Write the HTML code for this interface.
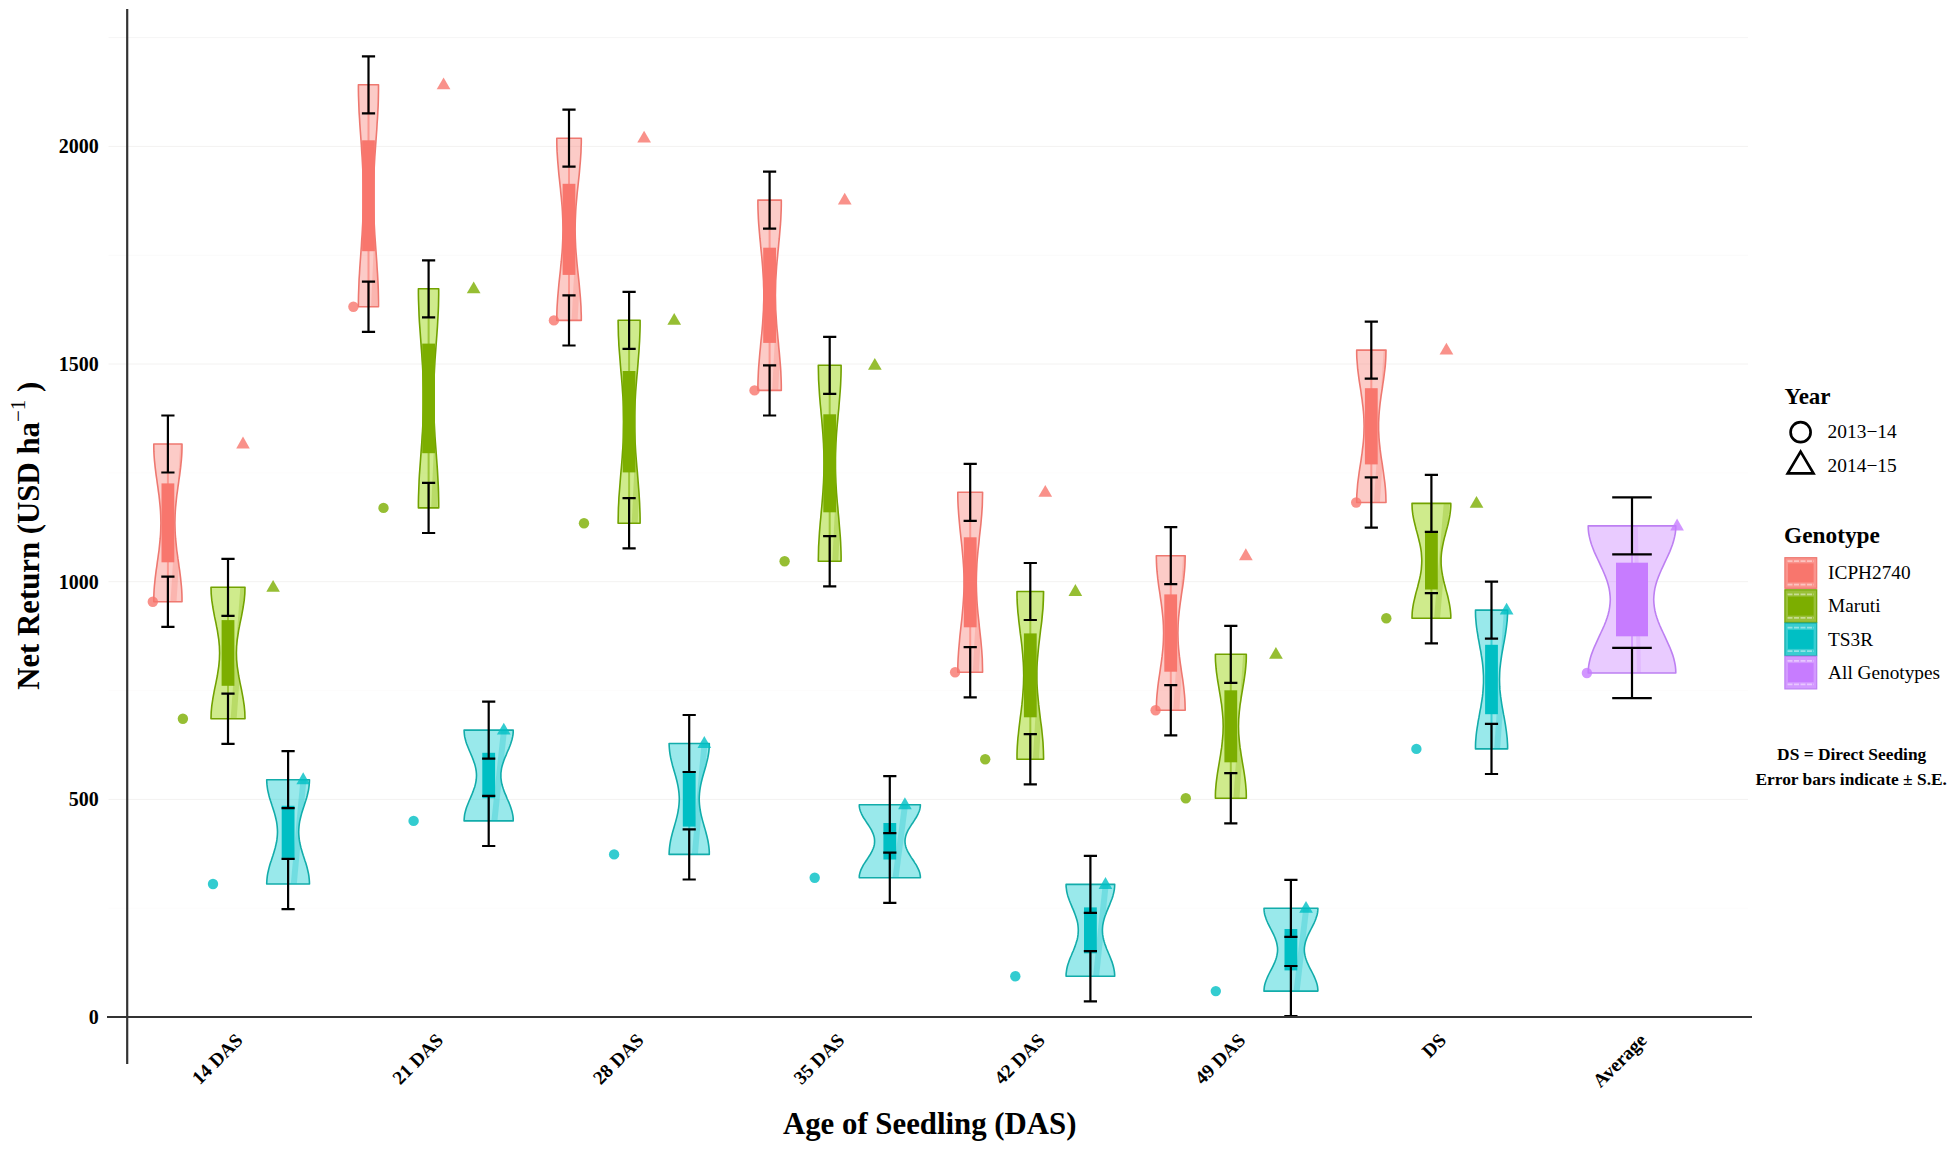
<!DOCTYPE html>
<html lang="en"><head><meta charset="utf-8"><title>Net Return by Age of Seedling</title>
<style>html,body{margin:0;padding:0;background:#fff}svg{display:block}text{font-family:"Liberation Serif",serif;fill:#000}.b{font-weight:bold}</style></head><body>
<svg width="1949" height="1150" viewBox="0 0 1949 1150">
<rect width="1949" height="1150" fill="#fff"/>
<g stroke-width="1">
<line x1="108.5" x2="1748" y1="908.2" y2="908.2" stroke="#fdfcfc"/>
<line x1="108.5" x2="1748" y1="799.4" y2="799.4" stroke="#f3f2f1"/>
<line x1="108.5" x2="1748" y1="690.5" y2="690.5" stroke="#fdfcfc"/>
<line x1="108.5" x2="1748" y1="581.7" y2="581.7" stroke="#f3f2f1"/>
<line x1="108.5" x2="1748" y1="472.9" y2="472.9" stroke="#fdfcfc"/>
<line x1="108.5" x2="1748" y1="364.0" y2="364.0" stroke="#f3f2f1"/>
<line x1="108.5" x2="1748" y1="255.2" y2="255.2" stroke="#fafafa"/>
<line x1="108.5" x2="1748" y1="146.4" y2="146.4" stroke="#f3f2f1"/>
<line x1="108.5" x2="1748" y1="37.6" y2="37.6" stroke="#f6f5f5"/>
</g>
<path d="M153.8 444.0 L153.8 447.9 L153.9 451.9 L154.1 455.8 L154.4 459.8 L154.8 463.7 L155.2 467.7 L155.7 471.6 L156.2 475.6 L156.8 479.5 L157.3 483.4 L157.9 487.4 L158.4 491.3 L159.0 495.3 L159.4 499.2 L159.8 503.2 L160.2 507.1 L160.5 511.1 L160.7 515.0 L160.8 519.0 L160.9 522.9 L160.8 526.8 L160.7 530.8 L160.5 534.7 L160.2 538.7 L159.8 542.6 L159.4 546.6 L159.0 550.5 L158.4 554.5 L157.9 558.4 L157.3 562.3 L156.8 566.3 L156.2 570.2 L155.7 574.2 L155.2 578.1 L154.8 582.1 L154.4 586.0 L154.1 590.0 L153.9 593.9 L153.8 597.9 L153.8 601.8 L182.0 601.8 L182.0 597.9 L181.9 593.9 L181.7 590.0 L181.4 586.0 L181.0 582.1 L180.6 578.1 L180.1 574.2 L179.6 570.2 L179.0 566.3 L178.5 562.3 L177.9 558.4 L177.4 554.5 L176.8 550.5 L176.4 546.6 L176.0 542.6 L175.6 538.7 L175.3 534.7 L175.1 530.8 L175.0 526.8 L174.9 522.9 L175.0 519.0 L175.1 515.0 L175.3 511.1 L175.6 507.1 L176.0 503.2 L176.4 499.2 L176.8 495.3 L177.4 491.3 L177.9 487.4 L178.5 483.4 L179.0 479.5 L179.6 475.6 L180.1 471.6 L180.6 467.7 L181.0 463.7 L181.4 459.8 L181.7 455.8 L181.9 451.9 L182.0 447.9 L182.0 444.0Z" fill="#F8766D" fill-opacity="0.38" stroke="#EE7870" stroke-width="1.6" stroke-linejoin="round"/>
<clipPath id="c1"><path d="M153.8 444.0 L153.8 447.9 L153.9 451.9 L154.1 455.8 L154.4 459.8 L154.8 463.7 L155.2 467.7 L155.7 471.6 L156.2 475.6 L156.8 479.5 L157.3 483.4 L157.9 487.4 L158.4 491.3 L159.0 495.3 L159.4 499.2 L159.8 503.2 L160.2 507.1 L160.5 511.1 L160.7 515.0 L160.8 519.0 L160.9 522.9 L160.8 526.8 L160.7 530.8 L160.5 534.7 L160.2 538.7 L159.8 542.6 L159.4 546.6 L159.0 550.5 L158.4 554.5 L157.9 558.4 L157.3 562.3 L156.8 566.3 L156.2 570.2 L155.7 574.2 L155.2 578.1 L154.8 582.1 L154.4 586.0 L154.1 590.0 L153.9 593.9 L153.8 597.9 L153.8 601.8 L182.0 601.8 L182.0 597.9 L181.9 593.9 L181.7 590.0 L181.4 586.0 L181.0 582.1 L180.6 578.1 L180.1 574.2 L179.6 570.2 L179.0 566.3 L178.5 562.3 L177.9 558.4 L177.4 554.5 L176.8 550.5 L176.4 546.6 L176.0 542.6 L175.6 538.7 L175.3 534.7 L175.1 530.8 L175.0 526.8 L174.9 522.9 L175.0 519.0 L175.1 515.0 L175.3 511.1 L175.6 507.1 L176.0 503.2 L176.4 499.2 L176.8 495.3 L177.4 491.3 L177.9 487.4 L178.5 483.4 L179.0 479.5 L179.6 475.6 L180.1 471.6 L180.6 467.7 L181.0 463.7 L181.4 459.8 L181.7 455.8 L181.9 451.9 L182.0 447.9 L182.0 444.0Z"/></clipPath>
<line x1="183.4" y1="442.0" x2="173.4" y2="603.8" stroke="#F8766D" stroke-width="6" stroke-opacity="0.26" clip-path="url(#c1)"/>
<line x1="167.9" x2="167.9" y1="444.0" y2="601.8" stroke="#F8766D" stroke-width="2" stroke-opacity="0.6"/>
<rect x="161.5" y="483.4" width="12.8" height="78.9" fill="#F8766D"/>
<path d="M211.0 587.3 L211.1 590.6 L211.2 593.9 L211.5 597.2 L211.8 600.4 L212.3 603.7 L212.8 607.0 L213.4 610.3 L214.0 613.6 L214.6 616.9 L215.3 620.1 L216.0 623.4 L216.6 626.7 L217.3 630.0 L217.8 633.3 L218.3 636.6 L218.8 639.9 L219.1 643.1 L219.4 646.4 L219.5 649.7 L219.6 653.0 L219.5 656.3 L219.4 659.6 L219.1 662.9 L218.8 666.1 L218.3 669.4 L217.8 672.7 L217.3 676.0 L216.6 679.3 L216.0 682.6 L215.3 685.9 L214.6 689.1 L214.0 692.4 L213.4 695.7 L212.8 699.0 L212.3 702.3 L211.8 705.6 L211.5 708.8 L211.2 712.1 L211.1 715.4 L211.0 718.7 L245.0 718.7 L244.9 715.4 L244.8 712.1 L244.5 708.8 L244.2 705.6 L243.7 702.3 L243.2 699.0 L242.6 695.7 L242.0 692.4 L241.4 689.1 L240.7 685.9 L240.0 682.6 L239.4 679.3 L238.7 676.0 L238.2 672.7 L237.7 669.4 L237.2 666.1 L236.9 662.9 L236.6 659.6 L236.5 656.3 L236.4 653.0 L236.5 649.7 L236.6 646.4 L236.9 643.1 L237.2 639.9 L237.7 636.6 L238.2 633.3 L238.7 630.0 L239.4 626.7 L240.0 623.4 L240.7 620.1 L241.4 616.9 L242.0 613.6 L242.6 610.3 L243.2 607.0 L243.7 603.7 L244.2 600.4 L244.5 597.2 L244.8 593.9 L244.9 590.6 L245.0 587.3Z" fill="#94D200" fill-opacity="0.45" stroke="#72A200" stroke-width="1.6" stroke-linejoin="round"/>
<clipPath id="c2"><path d="M211.0 587.3 L211.1 590.6 L211.2 593.9 L211.5 597.2 L211.8 600.4 L212.3 603.7 L212.8 607.0 L213.4 610.3 L214.0 613.6 L214.6 616.9 L215.3 620.1 L216.0 623.4 L216.6 626.7 L217.3 630.0 L217.8 633.3 L218.3 636.6 L218.8 639.9 L219.1 643.1 L219.4 646.4 L219.5 649.7 L219.6 653.0 L219.5 656.3 L219.4 659.6 L219.1 662.9 L218.8 666.1 L218.3 669.4 L217.8 672.7 L217.3 676.0 L216.6 679.3 L216.0 682.6 L215.3 685.9 L214.6 689.1 L214.0 692.4 L213.4 695.7 L212.8 699.0 L212.3 702.3 L211.8 705.6 L211.5 708.8 L211.2 712.1 L211.1 715.4 L211.0 718.7 L245.0 718.7 L244.9 715.4 L244.8 712.1 L244.5 708.8 L244.2 705.6 L243.7 702.3 L243.2 699.0 L242.6 695.7 L242.0 692.4 L241.4 689.1 L240.7 685.9 L240.0 682.6 L239.4 679.3 L238.7 676.0 L238.2 672.7 L237.7 669.4 L237.2 666.1 L236.9 662.9 L236.6 659.6 L236.5 656.3 L236.4 653.0 L236.5 649.7 L236.6 646.4 L236.9 643.1 L237.2 639.9 L237.7 636.6 L238.2 633.3 L238.7 630.0 L239.4 626.7 L240.0 623.4 L240.7 620.1 L241.4 616.9 L242.0 613.6 L242.6 610.3 L243.2 607.0 L243.7 603.7 L244.2 600.4 L244.5 597.2 L244.8 593.9 L244.9 590.6 L245.0 587.3Z"/></clipPath>
<line x1="243.5" y1="585.3" x2="233.5" y2="720.7" stroke="#7CAE00" stroke-width="6" stroke-opacity="0.26" clip-path="url(#c2)"/>
<line x1="228.0" x2="228.0" y1="587.3" y2="718.7" stroke="#7CAE00" stroke-width="2" stroke-opacity="0.6"/>
<rect x="221.6" y="620.1" width="12.8" height="65.7" fill="#7CAE00"/>
<path d="M266.7 779.7 L266.8 782.3 L267.0 784.9 L267.3 787.5 L267.7 790.1 L268.3 792.7 L268.9 795.3 L269.6 798.0 L270.4 800.6 L271.3 803.2 L272.1 805.8 L273.0 808.4 L273.8 811.0 L274.6 813.6 L275.3 816.2 L275.9 818.8 L276.5 821.4 L276.9 824.0 L277.2 826.6 L277.4 829.2 L277.5 831.9 L277.4 834.5 L277.2 837.1 L276.9 839.7 L276.5 842.3 L275.9 844.9 L275.3 847.5 L274.6 850.1 L273.8 852.7 L273.0 855.3 L272.1 857.9 L271.3 860.5 L270.4 863.1 L269.6 865.7 L268.9 868.4 L268.3 871.0 L267.7 873.6 L267.3 876.2 L267.0 878.8 L266.8 881.4 L266.7 884.0 L309.5 884.0 L309.4 881.4 L309.2 878.8 L308.9 876.2 L308.5 873.6 L307.9 871.0 L307.3 868.4 L306.6 865.7 L305.8 863.1 L304.9 860.5 L304.1 857.9 L303.2 855.3 L302.4 852.7 L301.6 850.1 L300.9 847.5 L300.3 844.9 L299.7 842.3 L299.3 839.7 L299.0 837.1 L298.8 834.5 L298.7 831.9 L298.8 829.2 L299.0 826.6 L299.3 824.0 L299.7 821.4 L300.3 818.8 L300.9 816.2 L301.6 813.6 L302.4 811.0 L303.2 808.4 L304.1 805.8 L304.9 803.2 L305.8 800.6 L306.6 798.0 L307.3 795.3 L307.9 792.7 L308.5 790.1 L308.9 787.5 L309.2 784.9 L309.4 782.3 L309.5 779.7Z" fill="#00C8CC" fill-opacity="0.4" stroke="#12ACAA" stroke-width="1.6" stroke-linejoin="round"/>
<clipPath id="c3"><path d="M266.7 779.7 L266.8 782.3 L267.0 784.9 L267.3 787.5 L267.7 790.1 L268.3 792.7 L268.9 795.3 L269.6 798.0 L270.4 800.6 L271.3 803.2 L272.1 805.8 L273.0 808.4 L273.8 811.0 L274.6 813.6 L275.3 816.2 L275.9 818.8 L276.5 821.4 L276.9 824.0 L277.2 826.6 L277.4 829.2 L277.5 831.9 L277.4 834.5 L277.2 837.1 L276.9 839.7 L276.5 842.3 L275.9 844.9 L275.3 847.5 L274.6 850.1 L273.8 852.7 L273.0 855.3 L272.1 857.9 L271.3 860.5 L270.4 863.1 L269.6 865.7 L268.9 868.4 L268.3 871.0 L267.7 873.6 L267.3 876.2 L267.0 878.8 L266.8 881.4 L266.7 884.0 L309.5 884.0 L309.4 881.4 L309.2 878.8 L308.9 876.2 L308.5 873.6 L307.9 871.0 L307.3 868.4 L306.6 865.7 L305.8 863.1 L304.9 860.5 L304.1 857.9 L303.2 855.3 L302.4 852.7 L301.6 850.1 L300.9 847.5 L300.3 844.9 L299.7 842.3 L299.3 839.7 L299.0 837.1 L298.8 834.5 L298.7 831.9 L298.8 829.2 L299.0 826.6 L299.3 824.0 L299.7 821.4 L300.3 818.8 L300.9 816.2 L301.6 813.6 L302.4 811.0 L303.2 808.4 L304.1 805.8 L304.9 803.2 L305.8 800.6 L306.6 798.0 L307.3 795.3 L307.9 792.7 L308.5 790.1 L308.9 787.5 L309.2 784.9 L309.4 782.3 L309.5 779.7Z"/></clipPath>
<line x1="303.6" y1="777.7" x2="293.6" y2="886.0" stroke="#00BFC4" stroke-width="6" stroke-opacity="0.26" clip-path="url(#c3)"/>
<line x1="288.1" x2="288.1" y1="779.7" y2="884.0" stroke="#00BFC4" stroke-width="2" stroke-opacity="0.6"/>
<rect x="281.7" y="805.8" width="12.8" height="52.1" fill="#00BFC4"/>
<path d="M358.4 84.8 L358.4 90.3 L358.5 95.9 L358.7 101.4 L358.9 107.0 L359.1 112.5 L359.5 118.1 L359.8 123.6 L360.2 129.2 L360.6 134.7 L361.0 140.3 L361.4 145.8 L361.7 151.4 L362.1 156.9 L362.4 162.5 L362.7 168.0 L363.0 173.6 L363.2 179.1 L363.4 184.7 L363.4 190.2 L363.5 195.8 L363.4 201.3 L363.4 206.8 L363.2 212.4 L363.0 217.9 L362.7 223.5 L362.4 229.0 L362.1 234.6 L361.7 240.1 L361.4 245.7 L361.0 251.2 L360.6 256.8 L360.2 262.3 L359.8 267.9 L359.5 273.4 L359.1 279.0 L358.9 284.5 L358.7 290.1 L358.5 295.6 L358.4 301.2 L358.4 306.7 L378.5 306.7 L378.5 301.2 L378.4 295.6 L378.3 290.1 L378.1 284.5 L377.8 279.0 L377.5 273.4 L377.1 267.9 L376.8 262.3 L376.4 256.8 L376.0 251.2 L375.6 245.7 L375.2 240.1 L374.8 234.6 L374.5 229.0 L374.2 223.5 L373.9 217.9 L373.7 212.4 L373.6 206.8 L373.5 201.3 L373.5 195.8 L373.5 190.2 L373.6 184.7 L373.7 179.1 L373.9 173.6 L374.2 168.0 L374.5 162.5 L374.8 156.9 L375.2 151.4 L375.6 145.8 L376.0 140.3 L376.4 134.7 L376.8 129.2 L377.1 123.6 L377.5 118.1 L377.8 112.5 L378.1 107.0 L378.3 101.4 L378.4 95.9 L378.5 90.3 L378.5 84.8Z" fill="#F8766D" fill-opacity="0.38" stroke="#EE7870" stroke-width="1.6" stroke-linejoin="round"/>
<clipPath id="c4"><path d="M358.4 84.8 L358.4 90.3 L358.5 95.9 L358.7 101.4 L358.9 107.0 L359.1 112.5 L359.5 118.1 L359.8 123.6 L360.2 129.2 L360.6 134.7 L361.0 140.3 L361.4 145.8 L361.7 151.4 L362.1 156.9 L362.4 162.5 L362.7 168.0 L363.0 173.6 L363.2 179.1 L363.4 184.7 L363.4 190.2 L363.5 195.8 L363.4 201.3 L363.4 206.8 L363.2 212.4 L363.0 217.9 L362.7 223.5 L362.4 229.0 L362.1 234.6 L361.7 240.1 L361.4 245.7 L361.0 251.2 L360.6 256.8 L360.2 262.3 L359.8 267.9 L359.5 273.4 L359.1 279.0 L358.9 284.5 L358.7 290.1 L358.5 295.6 L358.4 301.2 L358.4 306.7 L378.5 306.7 L378.5 301.2 L378.4 295.6 L378.3 290.1 L378.1 284.5 L377.8 279.0 L377.5 273.4 L377.1 267.9 L376.8 262.3 L376.4 256.8 L376.0 251.2 L375.6 245.7 L375.2 240.1 L374.8 234.6 L374.5 229.0 L374.2 223.5 L373.9 217.9 L373.7 212.4 L373.6 206.8 L373.5 201.3 L373.5 195.8 L373.5 190.2 L373.6 184.7 L373.7 179.1 L373.9 173.6 L374.2 168.0 L374.5 162.5 L374.8 156.9 L375.2 151.4 L375.6 145.8 L376.0 140.3 L376.4 134.7 L376.8 129.2 L377.1 123.6 L377.5 118.1 L377.8 112.5 L378.1 107.0 L378.3 101.4 L378.4 95.9 L378.5 90.3 L378.5 84.8Z"/></clipPath>
<line x1="384.0" y1="82.8" x2="374.0" y2="308.7" stroke="#F8766D" stroke-width="6" stroke-opacity="0.26" clip-path="url(#c4)"/>
<line x1="368.5" x2="368.5" y1="84.8" y2="306.7" stroke="#F8766D" stroke-width="2" stroke-opacity="0.6"/>
<rect x="362.1" y="140.3" width="12.8" height="110.9" fill="#F8766D"/>
<path d="M418.4 288.8 L418.4 294.3 L418.5 299.8 L418.7 305.2 L418.9 310.7 L419.1 316.2 L419.4 321.7 L419.8 327.1 L420.2 332.6 L420.6 338.1 L421.0 343.6 L421.4 349.1 L421.8 354.5 L422.1 360.0 L422.5 365.5 L422.8 371.0 L423.0 376.4 L423.2 381.9 L423.4 387.4 L423.5 392.9 L423.5 398.4 L423.5 403.8 L423.4 409.3 L423.2 414.8 L423.0 420.3 L422.8 425.7 L422.5 431.2 L422.1 436.7 L421.8 442.2 L421.4 447.6 L421.0 453.1 L420.6 458.6 L420.2 464.1 L419.8 469.6 L419.4 475.0 L419.1 480.5 L418.9 486.0 L418.7 491.5 L418.5 496.9 L418.4 502.4 L418.4 507.9 L438.7 507.9 L438.7 502.4 L438.6 496.9 L438.5 491.5 L438.3 486.0 L438.0 480.5 L437.7 475.0 L437.4 469.6 L437.0 464.1 L436.6 458.6 L436.2 453.1 L435.8 447.6 L435.4 442.2 L435.0 436.7 L434.7 431.2 L434.4 425.7 L434.1 420.3 L433.9 414.8 L433.8 409.3 L433.7 403.8 L433.6 398.4 L433.7 392.9 L433.8 387.4 L433.9 381.9 L434.1 376.4 L434.4 371.0 L434.7 365.5 L435.0 360.0 L435.4 354.5 L435.8 349.1 L436.2 343.6 L436.6 338.1 L437.0 332.6 L437.4 327.1 L437.7 321.7 L438.0 316.2 L438.3 310.7 L438.5 305.2 L438.6 299.8 L438.7 294.3 L438.7 288.8Z" fill="#94D200" fill-opacity="0.45" stroke="#72A200" stroke-width="1.6" stroke-linejoin="round"/>
<clipPath id="c5"><path d="M418.4 288.8 L418.4 294.3 L418.5 299.8 L418.7 305.2 L418.9 310.7 L419.1 316.2 L419.4 321.7 L419.8 327.1 L420.2 332.6 L420.6 338.1 L421.0 343.6 L421.4 349.1 L421.8 354.5 L422.1 360.0 L422.5 365.5 L422.8 371.0 L423.0 376.4 L423.2 381.9 L423.4 387.4 L423.5 392.9 L423.5 398.4 L423.5 403.8 L423.4 409.3 L423.2 414.8 L423.0 420.3 L422.8 425.7 L422.5 431.2 L422.1 436.7 L421.8 442.2 L421.4 447.6 L421.0 453.1 L420.6 458.6 L420.2 464.1 L419.8 469.6 L419.4 475.0 L419.1 480.5 L418.9 486.0 L418.7 491.5 L418.5 496.9 L418.4 502.4 L418.4 507.9 L438.7 507.9 L438.7 502.4 L438.6 496.9 L438.5 491.5 L438.3 486.0 L438.0 480.5 L437.7 475.0 L437.4 469.6 L437.0 464.1 L436.6 458.6 L436.2 453.1 L435.8 447.6 L435.4 442.2 L435.0 436.7 L434.7 431.2 L434.4 425.7 L434.1 420.3 L433.9 414.8 L433.8 409.3 L433.7 403.8 L433.6 398.4 L433.7 392.9 L433.8 387.4 L433.9 381.9 L434.1 376.4 L434.4 371.0 L434.7 365.5 L435.0 360.0 L435.4 354.5 L435.8 349.1 L436.2 343.6 L436.6 338.1 L437.0 332.6 L437.4 327.1 L437.7 321.7 L438.0 316.2 L438.3 310.7 L438.5 305.2 L438.6 299.8 L438.7 294.3 L438.7 288.8Z"/></clipPath>
<line x1="444.1" y1="286.8" x2="434.1" y2="509.9" stroke="#7CAE00" stroke-width="6" stroke-opacity="0.26" clip-path="url(#c5)"/>
<line x1="428.6" x2="428.6" y1="288.8" y2="507.9" stroke="#7CAE00" stroke-width="2" stroke-opacity="0.6"/>
<rect x="422.2" y="343.6" width="12.8" height="109.6" fill="#7CAE00"/>
<path d="M464.1 730.1 L464.2 732.4 L464.4 734.6 L464.7 736.9 L465.3 739.2 L465.9 741.5 L466.6 743.7 L467.5 746.0 L468.4 748.3 L469.3 750.5 L470.3 752.8 L471.3 755.1 L472.2 757.3 L473.1 759.6 L473.9 761.9 L474.7 764.1 L475.3 766.4 L475.8 768.7 L476.2 771.0 L476.4 773.2 L476.5 775.5 L476.4 777.8 L476.2 780.0 L475.8 782.3 L475.3 784.6 L474.7 786.9 L473.9 789.1 L473.1 791.4 L472.2 793.7 L471.3 795.9 L470.3 798.2 L469.3 800.5 L468.4 802.7 L467.5 805.0 L466.6 807.3 L465.9 809.5 L465.3 811.8 L464.7 814.1 L464.4 816.4 L464.2 818.6 L464.1 820.9 L513.2 820.9 L513.2 818.6 L513.0 816.4 L512.6 814.1 L512.1 811.8 L511.4 809.5 L510.7 807.3 L509.9 805.0 L509.0 802.7 L508.0 800.5 L507.0 798.2 L506.1 795.9 L505.1 793.7 L504.2 791.4 L503.4 789.1 L502.7 786.9 L502.0 784.6 L501.5 782.3 L501.2 780.0 L500.9 777.8 L500.9 775.5 L500.9 773.2 L501.2 771.0 L501.5 768.7 L502.0 766.4 L502.7 764.1 L503.4 761.9 L504.2 759.6 L505.1 757.3 L506.1 755.1 L507.0 752.8 L508.0 750.5 L509.0 748.3 L509.9 746.0 L510.7 743.7 L511.4 741.5 L512.1 739.2 L512.6 736.9 L513.0 734.6 L513.2 732.4 L513.2 730.1Z" fill="#00C8CC" fill-opacity="0.4" stroke="#12ACAA" stroke-width="1.6" stroke-linejoin="round"/>
<clipPath id="c6"><path d="M464.1 730.1 L464.2 732.4 L464.4 734.6 L464.7 736.9 L465.3 739.2 L465.9 741.5 L466.6 743.7 L467.5 746.0 L468.4 748.3 L469.3 750.5 L470.3 752.8 L471.3 755.1 L472.2 757.3 L473.1 759.6 L473.9 761.9 L474.7 764.1 L475.3 766.4 L475.8 768.7 L476.2 771.0 L476.4 773.2 L476.5 775.5 L476.4 777.8 L476.2 780.0 L475.8 782.3 L475.3 784.6 L474.7 786.9 L473.9 789.1 L473.1 791.4 L472.2 793.7 L471.3 795.9 L470.3 798.2 L469.3 800.5 L468.4 802.7 L467.5 805.0 L466.6 807.3 L465.9 809.5 L465.3 811.8 L464.7 814.1 L464.4 816.4 L464.2 818.6 L464.1 820.9 L513.2 820.9 L513.2 818.6 L513.0 816.4 L512.6 814.1 L512.1 811.8 L511.4 809.5 L510.7 807.3 L509.9 805.0 L509.0 802.7 L508.0 800.5 L507.0 798.2 L506.1 795.9 L505.1 793.7 L504.2 791.4 L503.4 789.1 L502.7 786.9 L502.0 784.6 L501.5 782.3 L501.2 780.0 L500.9 777.8 L500.9 775.5 L500.9 773.2 L501.2 771.0 L501.5 768.7 L502.0 766.4 L502.7 764.1 L503.4 761.9 L504.2 759.6 L505.1 757.3 L506.1 755.1 L507.0 752.8 L508.0 750.5 L509.0 748.3 L509.9 746.0 L510.7 743.7 L511.4 741.5 L512.1 739.2 L512.6 736.9 L513.0 734.6 L513.2 732.4 L513.2 730.1Z"/></clipPath>
<line x1="504.2" y1="728.1" x2="494.2" y2="822.9" stroke="#00BFC4" stroke-width="6" stroke-opacity="0.26" clip-path="url(#c6)"/>
<line x1="488.7" x2="488.7" y1="730.1" y2="820.9" stroke="#00BFC4" stroke-width="2" stroke-opacity="0.6"/>
<rect x="482.3" y="752.8" width="12.8" height="45.4" fill="#00BFC4"/>
<path d="M556.8 138.2 L556.8 142.8 L556.9 147.3 L557.1 151.9 L557.4 156.4 L557.7 161.0 L558.1 165.5 L558.5 170.1 L558.9 174.6 L559.4 179.2 L559.9 183.8 L560.4 188.3 L560.8 192.9 L561.3 197.4 L561.7 202.0 L562.1 206.5 L562.4 211.1 L562.6 215.6 L562.8 220.2 L562.9 224.7 L563.0 229.3 L562.9 233.9 L562.8 238.4 L562.6 243.0 L562.4 247.5 L562.1 252.1 L561.7 256.6 L561.3 261.2 L560.8 265.7 L560.4 270.3 L559.9 274.8 L559.4 279.4 L558.9 284.0 L558.5 288.5 L558.1 293.1 L557.7 297.6 L557.4 302.2 L557.1 306.7 L556.9 311.3 L556.8 315.8 L556.8 320.4 L581.3 320.4 L581.3 315.8 L581.1 311.3 L581.0 306.7 L580.7 302.2 L580.4 297.6 L580.0 293.1 L579.6 288.5 L579.2 284.0 L578.7 279.4 L578.2 274.8 L577.7 270.3 L577.2 265.7 L576.8 261.2 L576.4 256.6 L576.0 252.1 L575.7 247.5 L575.5 243.0 L575.3 238.4 L575.2 233.9 L575.1 229.3 L575.2 224.7 L575.3 220.2 L575.5 215.6 L575.7 211.1 L576.0 206.5 L576.4 202.0 L576.8 197.4 L577.2 192.9 L577.7 188.3 L578.2 183.8 L578.7 179.2 L579.2 174.6 L579.6 170.1 L580.0 165.5 L580.4 161.0 L580.7 156.4 L581.0 151.9 L581.1 147.3 L581.3 142.8 L581.3 138.2Z" fill="#F8766D" fill-opacity="0.38" stroke="#EE7870" stroke-width="1.6" stroke-linejoin="round"/>
<clipPath id="c7"><path d="M556.8 138.2 L556.8 142.8 L556.9 147.3 L557.1 151.9 L557.4 156.4 L557.7 161.0 L558.1 165.5 L558.5 170.1 L558.9 174.6 L559.4 179.2 L559.9 183.8 L560.4 188.3 L560.8 192.9 L561.3 197.4 L561.7 202.0 L562.1 206.5 L562.4 211.1 L562.6 215.6 L562.8 220.2 L562.9 224.7 L563.0 229.3 L562.9 233.9 L562.8 238.4 L562.6 243.0 L562.4 247.5 L562.1 252.1 L561.7 256.6 L561.3 261.2 L560.8 265.7 L560.4 270.3 L559.9 274.8 L559.4 279.4 L558.9 284.0 L558.5 288.5 L558.1 293.1 L557.7 297.6 L557.4 302.2 L557.1 306.7 L556.9 311.3 L556.8 315.8 L556.8 320.4 L581.3 320.4 L581.3 315.8 L581.1 311.3 L581.0 306.7 L580.7 302.2 L580.4 297.6 L580.0 293.1 L579.6 288.5 L579.2 284.0 L578.7 279.4 L578.2 274.8 L577.7 270.3 L577.2 265.7 L576.8 261.2 L576.4 256.6 L576.0 252.1 L575.7 247.5 L575.5 243.0 L575.3 238.4 L575.2 233.9 L575.1 229.3 L575.2 224.7 L575.3 220.2 L575.5 215.6 L575.7 211.1 L576.0 206.5 L576.4 202.0 L576.8 197.4 L577.2 192.9 L577.7 188.3 L578.2 183.8 L578.7 179.2 L579.2 174.6 L579.6 170.1 L580.0 165.5 L580.4 161.0 L580.7 156.4 L581.0 151.9 L581.1 147.3 L581.3 142.8 L581.3 138.2Z"/></clipPath>
<line x1="584.5" y1="136.2" x2="574.5" y2="322.4" stroke="#F8766D" stroke-width="6" stroke-opacity="0.26" clip-path="url(#c7)"/>
<line x1="569.0" x2="569.0" y1="138.2" y2="320.4" stroke="#F8766D" stroke-width="2" stroke-opacity="0.6"/>
<rect x="562.6" y="183.8" width="12.8" height="91.1" fill="#F8766D"/>
<path d="M618.1 320.3 L618.2 325.4 L618.3 330.4 L618.4 335.5 L618.7 340.6 L618.9 345.7 L619.3 350.7 L619.7 355.8 L620.1 360.9 L620.5 366.0 L620.9 371.0 L621.4 376.1 L621.8 381.2 L622.2 386.2 L622.5 391.3 L622.9 396.4 L623.2 401.5 L623.4 406.5 L623.5 411.6 L623.6 416.7 L623.7 421.8 L623.6 426.8 L623.5 431.9 L623.4 437.0 L623.2 442.0 L622.9 447.1 L622.5 452.2 L622.2 457.3 L621.8 462.3 L621.4 467.4 L620.9 472.5 L620.5 477.5 L620.1 482.6 L619.7 487.7 L619.3 492.8 L618.9 497.8 L618.7 502.9 L618.4 508.0 L618.3 513.1 L618.2 518.1 L618.1 523.2 L640.1 523.2 L640.1 518.1 L640.0 513.1 L639.8 508.0 L639.6 502.9 L639.3 497.8 L639.0 492.8 L638.6 487.7 L638.2 482.6 L637.8 477.5 L637.4 472.5 L636.9 467.4 L636.5 462.3 L636.1 457.3 L635.7 452.2 L635.4 447.1 L635.1 442.0 L634.9 437.0 L634.7 431.9 L634.6 426.8 L634.6 421.8 L634.6 416.7 L634.7 411.6 L634.9 406.5 L635.1 401.5 L635.4 396.4 L635.7 391.3 L636.1 386.2 L636.5 381.2 L636.9 376.1 L637.4 371.0 L637.8 366.0 L638.2 360.9 L638.6 355.8 L639.0 350.7 L639.3 345.7 L639.6 340.6 L639.8 335.5 L640.0 330.4 L640.1 325.4 L640.1 320.3Z" fill="#94D200" fill-opacity="0.45" stroke="#72A200" stroke-width="1.6" stroke-linejoin="round"/>
<clipPath id="c8"><path d="M618.1 320.3 L618.2 325.4 L618.3 330.4 L618.4 335.5 L618.7 340.6 L618.9 345.7 L619.3 350.7 L619.7 355.8 L620.1 360.9 L620.5 366.0 L620.9 371.0 L621.4 376.1 L621.8 381.2 L622.2 386.2 L622.5 391.3 L622.9 396.4 L623.2 401.5 L623.4 406.5 L623.5 411.6 L623.6 416.7 L623.7 421.8 L623.6 426.8 L623.5 431.9 L623.4 437.0 L623.2 442.0 L622.9 447.1 L622.5 452.2 L622.2 457.3 L621.8 462.3 L621.4 467.4 L620.9 472.5 L620.5 477.5 L620.1 482.6 L619.7 487.7 L619.3 492.8 L618.9 497.8 L618.7 502.9 L618.4 508.0 L618.3 513.1 L618.2 518.1 L618.1 523.2 L640.1 523.2 L640.1 518.1 L640.0 513.1 L639.8 508.0 L639.6 502.9 L639.3 497.8 L639.0 492.8 L638.6 487.7 L638.2 482.6 L637.8 477.5 L637.4 472.5 L636.9 467.4 L636.5 462.3 L636.1 457.3 L635.7 452.2 L635.4 447.1 L635.1 442.0 L634.9 437.0 L634.7 431.9 L634.6 426.8 L634.6 421.8 L634.6 416.7 L634.7 411.6 L634.9 406.5 L635.1 401.5 L635.4 396.4 L635.7 391.3 L636.1 386.2 L636.5 381.2 L636.9 376.1 L637.4 371.0 L637.8 366.0 L638.2 360.9 L638.6 355.8 L639.0 350.7 L639.3 345.7 L639.6 340.6 L639.8 335.5 L640.0 330.4 L640.1 325.4 L640.1 320.3Z"/></clipPath>
<line x1="644.6" y1="318.3" x2="634.6" y2="525.2" stroke="#7CAE00" stroke-width="6" stroke-opacity="0.26" clip-path="url(#c8)"/>
<line x1="629.1" x2="629.1" y1="320.3" y2="523.2" stroke="#7CAE00" stroke-width="2" stroke-opacity="0.6"/>
<rect x="622.7" y="371.0" width="12.8" height="101.4" fill="#7CAE00"/>
<path d="M669.1 743.5 L669.2 746.3 L669.4 749.0 L669.7 751.8 L670.1 754.6 L670.6 757.4 L671.2 760.1 L671.9 762.9 L672.6 765.7 L673.4 768.5 L674.2 771.2 L675.0 774.0 L675.8 776.8 L676.5 779.5 L677.2 782.3 L677.8 785.1 L678.3 787.9 L678.7 790.6 L679.0 793.4 L679.2 796.2 L679.3 799.0 L679.2 801.7 L679.0 804.5 L678.7 807.3 L678.3 810.0 L677.8 812.8 L677.2 815.6 L676.5 818.4 L675.8 821.1 L675.0 823.9 L674.2 826.7 L673.4 829.4 L672.6 832.2 L671.9 835.0 L671.2 837.8 L670.6 840.5 L670.1 843.3 L669.7 846.1 L669.4 848.9 L669.2 851.6 L669.1 854.4 L709.3 854.4 L709.3 851.6 L709.1 848.9 L708.8 846.1 L708.4 843.3 L707.9 840.5 L707.3 837.8 L706.6 835.0 L705.9 832.2 L705.1 829.4 L704.3 826.7 L703.5 823.9 L702.7 821.1 L702.0 818.4 L701.3 815.6 L700.7 812.8 L700.2 810.0 L699.8 807.3 L699.5 804.5 L699.3 801.7 L699.2 799.0 L699.3 796.2 L699.5 793.4 L699.8 790.6 L700.2 787.9 L700.7 785.1 L701.3 782.3 L702.0 779.5 L702.7 776.8 L703.5 774.0 L704.3 771.2 L705.1 768.5 L705.9 765.7 L706.6 762.9 L707.3 760.1 L707.9 757.4 L708.4 754.6 L708.8 751.8 L709.1 749.0 L709.3 746.3 L709.3 743.5Z" fill="#00C8CC" fill-opacity="0.4" stroke="#12ACAA" stroke-width="1.6" stroke-linejoin="round"/>
<clipPath id="c9"><path d="M669.1 743.5 L669.2 746.3 L669.4 749.0 L669.7 751.8 L670.1 754.6 L670.6 757.4 L671.2 760.1 L671.9 762.9 L672.6 765.7 L673.4 768.5 L674.2 771.2 L675.0 774.0 L675.8 776.8 L676.5 779.5 L677.2 782.3 L677.8 785.1 L678.3 787.9 L678.7 790.6 L679.0 793.4 L679.2 796.2 L679.3 799.0 L679.2 801.7 L679.0 804.5 L678.7 807.3 L678.3 810.0 L677.8 812.8 L677.2 815.6 L676.5 818.4 L675.8 821.1 L675.0 823.9 L674.2 826.7 L673.4 829.4 L672.6 832.2 L671.9 835.0 L671.2 837.8 L670.6 840.5 L670.1 843.3 L669.7 846.1 L669.4 848.9 L669.2 851.6 L669.1 854.4 L709.3 854.4 L709.3 851.6 L709.1 848.9 L708.8 846.1 L708.4 843.3 L707.9 840.5 L707.3 837.8 L706.6 835.0 L705.9 832.2 L705.1 829.4 L704.3 826.7 L703.5 823.9 L702.7 821.1 L702.0 818.4 L701.3 815.6 L700.7 812.8 L700.2 810.0 L699.8 807.3 L699.5 804.5 L699.3 801.7 L699.2 799.0 L699.3 796.2 L699.5 793.4 L699.8 790.6 L700.2 787.9 L700.7 785.1 L701.3 782.3 L702.0 779.5 L702.7 776.8 L703.5 774.0 L704.3 771.2 L705.1 768.5 L705.9 765.7 L706.6 762.9 L707.3 760.1 L707.9 757.4 L708.4 754.6 L708.8 751.8 L709.1 749.0 L709.3 746.3 L709.3 743.5Z"/></clipPath>
<line x1="704.7" y1="741.5" x2="694.7" y2="856.4" stroke="#00BFC4" stroke-width="6" stroke-opacity="0.26" clip-path="url(#c9)"/>
<line x1="689.2" x2="689.2" y1="743.5" y2="854.4" stroke="#00BFC4" stroke-width="2" stroke-opacity="0.6"/>
<rect x="682.8" y="771.2" width="12.8" height="55.4" fill="#00BFC4"/>
<path d="M757.9 200.1 L757.9 204.9 L758.0 209.6 L758.2 214.4 L758.4 219.1 L758.7 223.9 L759.1 228.6 L759.5 233.4 L759.9 238.2 L760.4 242.9 L760.8 247.7 L761.3 252.4 L761.8 257.2 L762.2 261.9 L762.6 266.7 L762.9 271.5 L763.2 276.2 L763.5 281.0 L763.6 285.7 L763.8 290.5 L763.8 295.2 L763.8 300.0 L763.6 304.8 L763.5 309.5 L763.2 314.3 L762.9 319.0 L762.6 323.8 L762.2 328.6 L761.8 333.3 L761.3 338.1 L760.8 342.8 L760.4 347.6 L759.9 352.3 L759.5 357.1 L759.1 361.9 L758.7 366.6 L758.4 371.4 L758.2 376.1 L758.0 380.9 L757.9 385.6 L757.9 390.4 L781.3 390.4 L781.3 385.6 L781.2 380.9 L781.0 376.1 L780.8 371.4 L780.5 366.6 L780.1 361.9 L779.7 357.1 L779.3 352.3 L778.8 347.6 L778.4 342.8 L777.9 338.1 L777.5 333.3 L777.0 328.6 L776.6 323.8 L776.3 319.0 L776.0 314.3 L775.7 309.5 L775.6 304.8 L775.5 300.0 L775.4 295.2 L775.5 290.5 L775.6 285.7 L775.7 281.0 L776.0 276.2 L776.3 271.5 L776.6 266.7 L777.0 261.9 L777.5 257.2 L777.9 252.4 L778.4 247.7 L778.8 242.9 L779.3 238.2 L779.7 233.4 L780.1 228.6 L780.5 223.9 L780.8 219.1 L781.0 214.4 L781.2 209.6 L781.3 204.9 L781.3 200.1Z" fill="#F8766D" fill-opacity="0.38" stroke="#EE7870" stroke-width="1.6" stroke-linejoin="round"/>
<clipPath id="c10"><path d="M757.9 200.1 L757.9 204.9 L758.0 209.6 L758.2 214.4 L758.4 219.1 L758.7 223.9 L759.1 228.6 L759.5 233.4 L759.9 238.2 L760.4 242.9 L760.8 247.7 L761.3 252.4 L761.8 257.2 L762.2 261.9 L762.6 266.7 L762.9 271.5 L763.2 276.2 L763.5 281.0 L763.6 285.7 L763.8 290.5 L763.8 295.2 L763.8 300.0 L763.6 304.8 L763.5 309.5 L763.2 314.3 L762.9 319.0 L762.6 323.8 L762.2 328.6 L761.8 333.3 L761.3 338.1 L760.8 342.8 L760.4 347.6 L759.9 352.3 L759.5 357.1 L759.1 361.9 L758.7 366.6 L758.4 371.4 L758.2 376.1 L758.0 380.9 L757.9 385.6 L757.9 390.4 L781.3 390.4 L781.3 385.6 L781.2 380.9 L781.0 376.1 L780.8 371.4 L780.5 366.6 L780.1 361.9 L779.7 357.1 L779.3 352.3 L778.8 347.6 L778.4 342.8 L777.9 338.1 L777.5 333.3 L777.0 328.6 L776.6 323.8 L776.3 319.0 L776.0 314.3 L775.7 309.5 L775.6 304.8 L775.5 300.0 L775.4 295.2 L775.5 290.5 L775.6 285.7 L775.7 281.0 L776.0 276.2 L776.3 271.5 L776.6 266.7 L777.0 261.9 L777.5 257.2 L777.9 252.4 L778.4 247.7 L778.8 242.9 L779.3 238.2 L779.7 233.4 L780.1 228.6 L780.5 223.9 L780.8 219.1 L781.0 214.4 L781.2 209.6 L781.3 204.9 L781.3 200.1Z"/></clipPath>
<line x1="785.1" y1="198.1" x2="775.1" y2="392.4" stroke="#F8766D" stroke-width="6" stroke-opacity="0.26" clip-path="url(#c10)"/>
<line x1="769.6" x2="769.6" y1="200.1" y2="390.4" stroke="#F8766D" stroke-width="2" stroke-opacity="0.6"/>
<rect x="763.2" y="247.7" width="12.8" height="95.2" fill="#F8766D"/>
<path d="M818.3 365.3 L818.4 370.2 L818.5 375.1 L818.6 380.0 L818.9 384.9 L819.2 389.8 L819.5 394.7 L819.9 399.6 L820.3 404.5 L820.8 409.4 L821.2 414.3 L821.7 419.2 L822.1 424.1 L822.5 429.0 L822.9 433.9 L823.2 438.8 L823.5 443.7 L823.7 448.6 L823.9 453.5 L824.0 458.4 L824.1 463.3 L824.0 468.2 L823.9 473.1 L823.7 478.0 L823.5 482.9 L823.2 487.8 L822.9 492.7 L822.5 497.6 L822.1 502.5 L821.7 507.4 L821.2 512.3 L820.8 517.2 L820.3 522.1 L819.9 527.0 L819.5 531.9 L819.2 536.8 L818.9 541.7 L818.6 546.6 L818.5 551.5 L818.4 556.4 L818.3 561.3 L841.1 561.3 L841.1 556.4 L841.0 551.5 L840.8 546.6 L840.6 541.7 L840.3 536.8 L839.9 531.9 L839.5 527.0 L839.1 522.1 L838.7 517.2 L838.2 512.3 L837.8 507.4 L837.3 502.5 L836.9 497.6 L836.5 492.7 L836.2 487.8 L835.9 482.9 L835.7 478.0 L835.5 473.1 L835.4 468.2 L835.4 463.3 L835.4 458.4 L835.5 453.5 L835.7 448.6 L835.9 443.7 L836.2 438.8 L836.5 433.9 L836.9 429.0 L837.3 424.1 L837.8 419.2 L838.2 414.3 L838.7 409.4 L839.1 404.5 L839.5 399.6 L839.9 394.7 L840.3 389.8 L840.6 384.9 L840.8 380.0 L841.0 375.1 L841.1 370.2 L841.1 365.3Z" fill="#94D200" fill-opacity="0.45" stroke="#72A200" stroke-width="1.6" stroke-linejoin="round"/>
<clipPath id="c11"><path d="M818.3 365.3 L818.4 370.2 L818.5 375.1 L818.6 380.0 L818.9 384.9 L819.2 389.8 L819.5 394.7 L819.9 399.6 L820.3 404.5 L820.8 409.4 L821.2 414.3 L821.7 419.2 L822.1 424.1 L822.5 429.0 L822.9 433.9 L823.2 438.8 L823.5 443.7 L823.7 448.6 L823.9 453.5 L824.0 458.4 L824.1 463.3 L824.0 468.2 L823.9 473.1 L823.7 478.0 L823.5 482.9 L823.2 487.8 L822.9 492.7 L822.5 497.6 L822.1 502.5 L821.7 507.4 L821.2 512.3 L820.8 517.2 L820.3 522.1 L819.9 527.0 L819.5 531.9 L819.2 536.8 L818.9 541.7 L818.6 546.6 L818.5 551.5 L818.4 556.4 L818.3 561.3 L841.1 561.3 L841.1 556.4 L841.0 551.5 L840.8 546.6 L840.6 541.7 L840.3 536.8 L839.9 531.9 L839.5 527.0 L839.1 522.1 L838.7 517.2 L838.2 512.3 L837.8 507.4 L837.3 502.5 L836.9 497.6 L836.5 492.7 L836.2 487.8 L835.9 482.9 L835.7 478.0 L835.5 473.1 L835.4 468.2 L835.4 463.3 L835.4 458.4 L835.5 453.5 L835.7 448.6 L835.9 443.7 L836.2 438.8 L836.5 433.9 L836.9 429.0 L837.3 424.1 L837.8 419.2 L838.2 414.3 L838.7 409.4 L839.1 404.5 L839.5 399.6 L839.9 394.7 L840.3 389.8 L840.6 384.9 L840.8 380.0 L841.0 375.1 L841.1 370.2 L841.1 365.3Z"/></clipPath>
<line x1="845.2" y1="363.3" x2="835.2" y2="563.3" stroke="#7CAE00" stroke-width="6" stroke-opacity="0.26" clip-path="url(#c11)"/>
<line x1="829.7" x2="829.7" y1="365.3" y2="561.3" stroke="#7CAE00" stroke-width="2" stroke-opacity="0.6"/>
<rect x="823.3" y="414.3" width="12.8" height="98.0" fill="#7CAE00"/>
<path d="M859.3 804.7 L859.3 806.5 L859.6 808.4 L860.1 810.2 L860.7 812.0 L861.5 813.8 L862.4 815.7 L863.4 817.5 L864.6 819.3 L865.8 821.1 L867.0 823.0 L868.2 824.8 L869.4 826.6 L870.5 828.4 L871.5 830.2 L872.4 832.1 L873.2 833.9 L873.8 835.7 L874.3 837.6 L874.5 839.4 L874.6 841.2 L874.5 843.0 L874.3 844.9 L873.8 846.7 L873.2 848.5 L872.4 850.3 L871.5 852.2 L870.5 854.0 L869.4 855.8 L868.2 857.6 L867.0 859.5 L865.8 861.3 L864.6 863.1 L863.4 864.9 L862.4 866.8 L861.5 868.6 L860.7 870.4 L860.1 872.2 L859.6 874.1 L859.3 875.9 L859.3 877.7 L920.4 877.7 L920.3 875.9 L920.0 874.1 L919.6 872.2 L918.9 870.4 L918.1 868.6 L917.2 866.8 L916.2 864.9 L915.0 863.1 L913.9 861.3 L912.7 859.5 L911.4 857.6 L910.3 855.8 L909.2 854.0 L908.1 852.2 L907.2 850.3 L906.4 848.5 L905.8 846.7 L905.4 844.9 L905.1 843.0 L905.0 841.2 L905.1 839.4 L905.4 837.6 L905.8 835.7 L906.4 833.9 L907.2 832.1 L908.1 830.2 L909.2 828.4 L910.3 826.6 L911.4 824.8 L912.7 823.0 L913.9 821.1 L915.0 819.3 L916.2 817.5 L917.2 815.7 L918.1 813.8 L918.9 812.0 L919.6 810.2 L920.0 808.4 L920.3 806.5 L920.4 804.7Z" fill="#00C8CC" fill-opacity="0.4" stroke="#12ACAA" stroke-width="1.6" stroke-linejoin="round"/>
<clipPath id="c12"><path d="M859.3 804.7 L859.3 806.5 L859.6 808.4 L860.1 810.2 L860.7 812.0 L861.5 813.8 L862.4 815.7 L863.4 817.5 L864.6 819.3 L865.8 821.1 L867.0 823.0 L868.2 824.8 L869.4 826.6 L870.5 828.4 L871.5 830.2 L872.4 832.1 L873.2 833.9 L873.8 835.7 L874.3 837.6 L874.5 839.4 L874.6 841.2 L874.5 843.0 L874.3 844.9 L873.8 846.7 L873.2 848.5 L872.4 850.3 L871.5 852.2 L870.5 854.0 L869.4 855.8 L868.2 857.6 L867.0 859.5 L865.8 861.3 L864.6 863.1 L863.4 864.9 L862.4 866.8 L861.5 868.6 L860.7 870.4 L860.1 872.2 L859.6 874.1 L859.3 875.9 L859.3 877.7 L920.4 877.7 L920.3 875.9 L920.0 874.1 L919.6 872.2 L918.9 870.4 L918.1 868.6 L917.2 866.8 L916.2 864.9 L915.0 863.1 L913.9 861.3 L912.7 859.5 L911.4 857.6 L910.3 855.8 L909.2 854.0 L908.1 852.2 L907.2 850.3 L906.4 848.5 L905.8 846.7 L905.4 844.9 L905.1 843.0 L905.0 841.2 L905.1 839.4 L905.4 837.6 L905.8 835.7 L906.4 833.9 L907.2 832.1 L908.1 830.2 L909.2 828.4 L910.3 826.6 L911.4 824.8 L912.7 823.0 L913.9 821.1 L915.0 819.3 L916.2 817.5 L917.2 815.7 L918.1 813.8 L918.9 812.0 L919.6 810.2 L920.0 808.4 L920.3 806.5 L920.4 804.7Z"/></clipPath>
<line x1="905.3" y1="802.7" x2="895.3" y2="879.7" stroke="#00BFC4" stroke-width="6" stroke-opacity="0.26" clip-path="url(#c12)"/>
<line x1="889.8" x2="889.8" y1="804.7" y2="877.7" stroke="#00BFC4" stroke-width="2" stroke-opacity="0.6"/>
<rect x="883.4" y="823.0" width="12.8" height="36.5" fill="#00BFC4"/>
<path d="M957.8 492.3 L957.8 496.8 L957.9 501.3 L958.1 505.8 L958.4 510.3 L958.7 514.8 L959.1 519.3 L959.5 523.8 L959.9 528.3 L960.4 532.8 L960.9 537.3 L961.4 541.8 L961.9 546.3 L962.3 550.8 L962.7 555.3 L963.1 559.8 L963.4 564.3 L963.7 568.8 L963.9 573.3 L964.0 577.8 L964.0 582.2 L964.0 586.7 L963.9 591.2 L963.7 595.7 L963.4 600.2 L963.1 604.7 L962.7 609.2 L962.3 613.7 L961.9 618.2 L961.4 622.7 L960.9 627.2 L960.4 631.7 L959.9 636.2 L959.5 640.7 L959.1 645.2 L958.7 649.7 L958.4 654.2 L958.1 658.7 L957.9 663.2 L957.8 667.7 L957.8 672.2 L982.6 672.2 L982.5 667.7 L982.4 663.2 L982.3 658.7 L982.0 654.2 L981.7 649.7 L981.3 645.2 L980.9 640.7 L980.4 636.2 L979.9 631.7 L979.4 627.2 L979.0 622.7 L978.5 618.2 L978.0 613.7 L977.6 609.2 L977.2 604.7 L976.9 600.2 L976.7 595.7 L976.5 591.2 L976.4 586.7 L976.3 582.2 L976.4 577.8 L976.5 573.3 L976.7 568.8 L976.9 564.3 L977.2 559.8 L977.6 555.3 L978.0 550.8 L978.5 546.3 L979.0 541.8 L979.4 537.3 L979.9 532.8 L980.4 528.3 L980.9 523.8 L981.3 519.3 L981.7 514.8 L982.0 510.3 L982.3 505.8 L982.4 501.3 L982.5 496.8 L982.6 492.3Z" fill="#F8766D" fill-opacity="0.38" stroke="#EE7870" stroke-width="1.6" stroke-linejoin="round"/>
<clipPath id="c13"><path d="M957.8 492.3 L957.8 496.8 L957.9 501.3 L958.1 505.8 L958.4 510.3 L958.7 514.8 L959.1 519.3 L959.5 523.8 L959.9 528.3 L960.4 532.8 L960.9 537.3 L961.4 541.8 L961.9 546.3 L962.3 550.8 L962.7 555.3 L963.1 559.8 L963.4 564.3 L963.7 568.8 L963.9 573.3 L964.0 577.8 L964.0 582.2 L964.0 586.7 L963.9 591.2 L963.7 595.7 L963.4 600.2 L963.1 604.7 L962.7 609.2 L962.3 613.7 L961.9 618.2 L961.4 622.7 L960.9 627.2 L960.4 631.7 L959.9 636.2 L959.5 640.7 L959.1 645.2 L958.7 649.7 L958.4 654.2 L958.1 658.7 L957.9 663.2 L957.8 667.7 L957.8 672.2 L982.6 672.2 L982.5 667.7 L982.4 663.2 L982.3 658.7 L982.0 654.2 L981.7 649.7 L981.3 645.2 L980.9 640.7 L980.4 636.2 L979.9 631.7 L979.4 627.2 L979.0 622.7 L978.5 618.2 L978.0 613.7 L977.6 609.2 L977.2 604.7 L976.9 600.2 L976.7 595.7 L976.5 591.2 L976.4 586.7 L976.3 582.2 L976.4 577.8 L976.5 573.3 L976.7 568.8 L976.9 564.3 L977.2 559.8 L977.6 555.3 L978.0 550.8 L978.5 546.3 L979.0 541.8 L979.4 537.3 L979.9 532.8 L980.4 528.3 L980.9 523.8 L981.3 519.3 L981.7 514.8 L982.0 510.3 L982.3 505.8 L982.4 501.3 L982.5 496.8 L982.6 492.3Z"/></clipPath>
<line x1="985.7" y1="490.3" x2="975.7" y2="674.2" stroke="#F8766D" stroke-width="6" stroke-opacity="0.26" clip-path="url(#c13)"/>
<line x1="970.2" x2="970.2" y1="492.3" y2="672.2" stroke="#F8766D" stroke-width="2" stroke-opacity="0.6"/>
<rect x="963.8" y="537.3" width="12.8" height="90.0" fill="#F8766D"/>
<path d="M1017.0 591.5 L1017.0 595.7 L1017.1 599.9 L1017.3 604.1 L1017.6 608.3 L1017.9 612.5 L1018.4 616.7 L1018.8 620.8 L1019.3 625.0 L1019.8 629.2 L1020.3 633.4 L1020.9 637.6 L1021.4 641.8 L1021.9 646.0 L1022.3 650.2 L1022.7 654.4 L1023.0 658.6 L1023.3 662.8 L1023.5 667.0 L1023.6 671.2 L1023.7 675.4 L1023.6 679.5 L1023.5 683.7 L1023.3 687.9 L1023.0 692.1 L1022.7 696.3 L1022.3 700.5 L1021.9 704.7 L1021.4 708.9 L1020.9 713.1 L1020.3 717.3 L1019.8 721.5 L1019.3 725.7 L1018.8 729.9 L1018.4 734.0 L1017.9 738.2 L1017.6 742.4 L1017.3 746.6 L1017.1 750.8 L1017.0 755.0 L1017.0 759.2 L1043.6 759.2 L1043.5 755.0 L1043.4 750.8 L1043.2 746.6 L1043.0 742.4 L1042.6 738.2 L1042.2 734.0 L1041.8 729.9 L1041.3 725.7 L1040.7 721.5 L1040.2 717.3 L1039.7 713.1 L1039.2 708.9 L1038.7 704.7 L1038.3 700.5 L1037.9 696.3 L1037.5 692.1 L1037.2 687.9 L1037.0 683.7 L1036.9 679.5 L1036.9 675.4 L1036.9 671.2 L1037.0 667.0 L1037.2 662.8 L1037.5 658.6 L1037.9 654.4 L1038.3 650.2 L1038.7 646.0 L1039.2 641.8 L1039.7 637.6 L1040.2 633.4 L1040.7 629.2 L1041.3 625.0 L1041.8 620.8 L1042.2 616.7 L1042.6 612.5 L1043.0 608.3 L1043.2 604.1 L1043.4 599.9 L1043.5 595.7 L1043.6 591.5Z" fill="#94D200" fill-opacity="0.45" stroke="#72A200" stroke-width="1.6" stroke-linejoin="round"/>
<clipPath id="c14"><path d="M1017.0 591.5 L1017.0 595.7 L1017.1 599.9 L1017.3 604.1 L1017.6 608.3 L1017.9 612.5 L1018.4 616.7 L1018.8 620.8 L1019.3 625.0 L1019.8 629.2 L1020.3 633.4 L1020.9 637.6 L1021.4 641.8 L1021.9 646.0 L1022.3 650.2 L1022.7 654.4 L1023.0 658.6 L1023.3 662.8 L1023.5 667.0 L1023.6 671.2 L1023.7 675.4 L1023.6 679.5 L1023.5 683.7 L1023.3 687.9 L1023.0 692.1 L1022.7 696.3 L1022.3 700.5 L1021.9 704.7 L1021.4 708.9 L1020.9 713.1 L1020.3 717.3 L1019.8 721.5 L1019.3 725.7 L1018.8 729.9 L1018.4 734.0 L1017.9 738.2 L1017.6 742.4 L1017.3 746.6 L1017.1 750.8 L1017.0 755.0 L1017.0 759.2 L1043.6 759.2 L1043.5 755.0 L1043.4 750.8 L1043.2 746.6 L1043.0 742.4 L1042.6 738.2 L1042.2 734.0 L1041.8 729.9 L1041.3 725.7 L1040.7 721.5 L1040.2 717.3 L1039.7 713.1 L1039.2 708.9 L1038.7 704.7 L1038.3 700.5 L1037.9 696.3 L1037.5 692.1 L1037.2 687.9 L1037.0 683.7 L1036.9 679.5 L1036.9 675.4 L1036.9 671.2 L1037.0 667.0 L1037.2 662.8 L1037.5 658.6 L1037.9 654.4 L1038.3 650.2 L1038.7 646.0 L1039.2 641.8 L1039.7 637.6 L1040.2 633.4 L1040.7 629.2 L1041.3 625.0 L1041.8 620.8 L1042.2 616.7 L1042.6 612.5 L1043.0 608.3 L1043.2 604.1 L1043.4 599.9 L1043.5 595.7 L1043.6 591.5Z"/></clipPath>
<line x1="1045.8" y1="589.5" x2="1035.8" y2="761.2" stroke="#7CAE00" stroke-width="6" stroke-opacity="0.26" clip-path="url(#c14)"/>
<line x1="1030.3" x2="1030.3" y1="591.5" y2="759.2" stroke="#7CAE00" stroke-width="2" stroke-opacity="0.6"/>
<rect x="1023.9" y="633.4" width="12.8" height="83.9" fill="#7CAE00"/>
<path d="M1066.1 884.4 L1066.1 886.7 L1066.4 889.0 L1066.7 891.3 L1067.2 893.6 L1067.8 895.9 L1068.6 898.2 L1069.4 900.5 L1070.3 902.8 L1071.3 905.1 L1072.2 907.4 L1073.2 909.6 L1074.1 911.9 L1075.0 914.2 L1075.8 916.5 L1076.5 918.8 L1077.2 921.1 L1077.7 923.4 L1078.0 925.7 L1078.2 928.0 L1078.3 930.3 L1078.2 932.6 L1078.0 934.9 L1077.7 937.2 L1077.2 939.5 L1076.5 941.8 L1075.8 944.1 L1075.0 946.4 L1074.1 948.7 L1073.2 951.0 L1072.2 953.2 L1071.3 955.5 L1070.3 957.8 L1069.4 960.1 L1068.6 962.4 L1067.8 964.7 L1067.2 967.0 L1066.7 969.3 L1066.4 971.6 L1066.1 973.9 L1066.1 976.2 L1114.7 976.2 L1114.6 973.9 L1114.4 971.6 L1114.0 969.3 L1113.5 967.0 L1112.9 964.7 L1112.2 962.4 L1111.3 960.1 L1110.4 957.8 L1109.5 955.5 L1108.5 953.2 L1107.6 951.0 L1106.6 948.7 L1105.8 946.4 L1104.9 944.1 L1104.2 941.8 L1103.6 939.5 L1103.1 937.2 L1102.7 934.9 L1102.5 932.6 L1102.4 930.3 L1102.5 928.0 L1102.7 925.7 L1103.1 923.4 L1103.6 921.1 L1104.2 918.8 L1104.9 916.5 L1105.8 914.2 L1106.6 911.9 L1107.6 909.6 L1108.5 907.4 L1109.5 905.1 L1110.4 902.8 L1111.3 900.5 L1112.2 898.2 L1112.9 895.9 L1113.5 893.6 L1114.0 891.3 L1114.4 889.0 L1114.6 886.7 L1114.7 884.4Z" fill="#00C8CC" fill-opacity="0.4" stroke="#12ACAA" stroke-width="1.6" stroke-linejoin="round"/>
<clipPath id="c15"><path d="M1066.1 884.4 L1066.1 886.7 L1066.4 889.0 L1066.7 891.3 L1067.2 893.6 L1067.8 895.9 L1068.6 898.2 L1069.4 900.5 L1070.3 902.8 L1071.3 905.1 L1072.2 907.4 L1073.2 909.6 L1074.1 911.9 L1075.0 914.2 L1075.8 916.5 L1076.5 918.8 L1077.2 921.1 L1077.7 923.4 L1078.0 925.7 L1078.2 928.0 L1078.3 930.3 L1078.2 932.6 L1078.0 934.9 L1077.7 937.2 L1077.2 939.5 L1076.5 941.8 L1075.8 944.1 L1075.0 946.4 L1074.1 948.7 L1073.2 951.0 L1072.2 953.2 L1071.3 955.5 L1070.3 957.8 L1069.4 960.1 L1068.6 962.4 L1067.8 964.7 L1067.2 967.0 L1066.7 969.3 L1066.4 971.6 L1066.1 973.9 L1066.1 976.2 L1114.7 976.2 L1114.6 973.9 L1114.4 971.6 L1114.0 969.3 L1113.5 967.0 L1112.9 964.7 L1112.2 962.4 L1111.3 960.1 L1110.4 957.8 L1109.5 955.5 L1108.5 953.2 L1107.6 951.0 L1106.6 948.7 L1105.8 946.4 L1104.9 944.1 L1104.2 941.8 L1103.6 939.5 L1103.1 937.2 L1102.7 934.9 L1102.5 932.6 L1102.4 930.3 L1102.5 928.0 L1102.7 925.7 L1103.1 923.4 L1103.6 921.1 L1104.2 918.8 L1104.9 916.5 L1105.8 914.2 L1106.6 911.9 L1107.6 909.6 L1108.5 907.4 L1109.5 905.1 L1110.4 902.8 L1111.3 900.5 L1112.2 898.2 L1112.9 895.9 L1113.5 893.6 L1114.0 891.3 L1114.4 889.0 L1114.6 886.7 L1114.7 884.4Z"/></clipPath>
<line x1="1105.9" y1="882.4" x2="1095.9" y2="978.2" stroke="#00BFC4" stroke-width="6" stroke-opacity="0.26" clip-path="url(#c15)"/>
<line x1="1090.4" x2="1090.4" y1="884.4" y2="976.2" stroke="#00BFC4" stroke-width="2" stroke-opacity="0.6"/>
<rect x="1084.0" y="907.4" width="12.8" height="45.9" fill="#00BFC4"/>
<path d="M1156.3 555.7 L1156.4 559.6 L1156.5 563.4 L1156.7 567.3 L1157.0 571.2 L1157.4 575.0 L1157.8 578.9 L1158.3 582.8 L1158.8 586.6 L1159.4 590.5 L1160.0 594.4 L1160.5 598.2 L1161.1 602.1 L1161.6 605.9 L1162.1 609.8 L1162.5 613.7 L1162.9 617.5 L1163.2 621.4 L1163.4 625.3 L1163.5 629.1 L1163.6 633.0 L1163.5 636.9 L1163.4 640.7 L1163.2 644.6 L1162.9 648.5 L1162.5 652.3 L1162.1 656.2 L1161.6 660.1 L1161.1 663.9 L1160.5 667.8 L1160.0 671.6 L1159.4 675.5 L1158.8 679.4 L1158.3 683.2 L1157.8 687.1 L1157.4 691.0 L1157.0 694.8 L1156.7 698.7 L1156.5 702.6 L1156.4 706.4 L1156.3 710.3 L1185.2 710.3 L1185.1 706.4 L1185.0 702.6 L1184.8 698.7 L1184.5 694.8 L1184.1 691.0 L1183.7 687.1 L1183.2 683.2 L1182.7 679.4 L1182.1 675.5 L1181.5 671.6 L1181.0 667.8 L1180.4 663.9 L1179.9 660.1 L1179.4 656.2 L1179.0 652.3 L1178.6 648.5 L1178.3 644.6 L1178.1 640.7 L1178.0 636.9 L1177.9 633.0 L1178.0 629.1 L1178.1 625.3 L1178.3 621.4 L1178.6 617.5 L1179.0 613.7 L1179.4 609.8 L1179.9 605.9 L1180.4 602.1 L1181.0 598.2 L1181.5 594.4 L1182.1 590.5 L1182.7 586.6 L1183.2 582.8 L1183.7 578.9 L1184.1 575.0 L1184.5 571.2 L1184.8 567.3 L1185.0 563.4 L1185.1 559.6 L1185.2 555.7Z" fill="#F8766D" fill-opacity="0.38" stroke="#EE7870" stroke-width="1.6" stroke-linejoin="round"/>
<clipPath id="c16"><path d="M1156.3 555.7 L1156.4 559.6 L1156.5 563.4 L1156.7 567.3 L1157.0 571.2 L1157.4 575.0 L1157.8 578.9 L1158.3 582.8 L1158.8 586.6 L1159.4 590.5 L1160.0 594.4 L1160.5 598.2 L1161.1 602.1 L1161.6 605.9 L1162.1 609.8 L1162.5 613.7 L1162.9 617.5 L1163.2 621.4 L1163.4 625.3 L1163.5 629.1 L1163.6 633.0 L1163.5 636.9 L1163.4 640.7 L1163.2 644.6 L1162.9 648.5 L1162.5 652.3 L1162.1 656.2 L1161.6 660.1 L1161.1 663.9 L1160.5 667.8 L1160.0 671.6 L1159.4 675.5 L1158.8 679.4 L1158.3 683.2 L1157.8 687.1 L1157.4 691.0 L1157.0 694.8 L1156.7 698.7 L1156.5 702.6 L1156.4 706.4 L1156.3 710.3 L1185.2 710.3 L1185.1 706.4 L1185.0 702.6 L1184.8 698.7 L1184.5 694.8 L1184.1 691.0 L1183.7 687.1 L1183.2 683.2 L1182.7 679.4 L1182.1 675.5 L1181.5 671.6 L1181.0 667.8 L1180.4 663.9 L1179.9 660.1 L1179.4 656.2 L1179.0 652.3 L1178.6 648.5 L1178.3 644.6 L1178.1 640.7 L1178.0 636.9 L1177.9 633.0 L1178.0 629.1 L1178.1 625.3 L1178.3 621.4 L1178.6 617.5 L1179.0 613.7 L1179.4 609.8 L1179.9 605.9 L1180.4 602.1 L1181.0 598.2 L1181.5 594.4 L1182.1 590.5 L1182.7 586.6 L1183.2 582.8 L1183.7 578.9 L1184.1 575.0 L1184.5 571.2 L1184.8 567.3 L1185.0 563.4 L1185.1 559.6 L1185.2 555.7Z"/></clipPath>
<line x1="1186.2" y1="553.7" x2="1176.2" y2="712.3" stroke="#F8766D" stroke-width="6" stroke-opacity="0.26" clip-path="url(#c16)"/>
<line x1="1170.8" x2="1170.8" y1="555.7" y2="710.3" stroke="#F8766D" stroke-width="2" stroke-opacity="0.6"/>
<rect x="1164.3" y="594.4" width="12.8" height="77.3" fill="#F8766D"/>
<path d="M1215.4 654.3 L1215.4 657.9 L1215.5 661.5 L1215.8 665.1 L1216.1 668.7 L1216.5 672.3 L1217.0 675.9 L1217.5 679.5 L1218.1 683.1 L1218.7 686.7 L1219.3 690.3 L1219.9 693.9 L1220.5 697.5 L1221.0 701.1 L1221.6 704.7 L1222.0 708.3 L1222.4 711.9 L1222.7 715.5 L1223.0 719.1 L1223.1 722.7 L1223.2 726.3 L1223.1 729.9 L1223.0 733.5 L1222.7 737.1 L1222.4 740.7 L1222.0 744.3 L1221.6 747.9 L1221.0 751.5 L1220.5 755.1 L1219.9 758.7 L1219.3 762.3 L1218.7 765.9 L1218.1 769.5 L1217.5 773.1 L1217.0 776.7 L1216.5 780.3 L1216.1 783.9 L1215.8 787.5 L1215.5 791.1 L1215.4 794.7 L1215.4 798.3 L1246.3 798.3 L1246.3 794.7 L1246.2 791.1 L1245.9 787.5 L1245.6 783.9 L1245.2 780.3 L1244.7 776.7 L1244.2 773.1 L1243.6 769.5 L1243.0 765.9 L1242.4 762.3 L1241.8 758.7 L1241.2 755.1 L1240.7 751.5 L1240.1 747.9 L1239.7 744.3 L1239.3 740.7 L1239.0 737.1 L1238.7 733.5 L1238.6 729.9 L1238.5 726.3 L1238.6 722.7 L1238.7 719.1 L1239.0 715.5 L1239.3 711.9 L1239.7 708.3 L1240.1 704.7 L1240.7 701.1 L1241.2 697.5 L1241.8 693.9 L1242.4 690.3 L1243.0 686.7 L1243.6 683.1 L1244.2 679.5 L1244.7 675.9 L1245.2 672.3 L1245.6 668.7 L1245.9 665.1 L1246.2 661.5 L1246.3 657.9 L1246.3 654.3Z" fill="#94D200" fill-opacity="0.45" stroke="#72A200" stroke-width="1.6" stroke-linejoin="round"/>
<clipPath id="c17"><path d="M1215.4 654.3 L1215.4 657.9 L1215.5 661.5 L1215.8 665.1 L1216.1 668.7 L1216.5 672.3 L1217.0 675.9 L1217.5 679.5 L1218.1 683.1 L1218.7 686.7 L1219.3 690.3 L1219.9 693.9 L1220.5 697.5 L1221.0 701.1 L1221.6 704.7 L1222.0 708.3 L1222.4 711.9 L1222.7 715.5 L1223.0 719.1 L1223.1 722.7 L1223.2 726.3 L1223.1 729.9 L1223.0 733.5 L1222.7 737.1 L1222.4 740.7 L1222.0 744.3 L1221.6 747.9 L1221.0 751.5 L1220.5 755.1 L1219.9 758.7 L1219.3 762.3 L1218.7 765.9 L1218.1 769.5 L1217.5 773.1 L1217.0 776.7 L1216.5 780.3 L1216.1 783.9 L1215.8 787.5 L1215.5 791.1 L1215.4 794.7 L1215.4 798.3 L1246.3 798.3 L1246.3 794.7 L1246.2 791.1 L1245.9 787.5 L1245.6 783.9 L1245.2 780.3 L1244.7 776.7 L1244.2 773.1 L1243.6 769.5 L1243.0 765.9 L1242.4 762.3 L1241.8 758.7 L1241.2 755.1 L1240.7 751.5 L1240.1 747.9 L1239.7 744.3 L1239.3 740.7 L1239.0 737.1 L1238.7 733.5 L1238.6 729.9 L1238.5 726.3 L1238.6 722.7 L1238.7 719.1 L1239.0 715.5 L1239.3 711.9 L1239.7 708.3 L1240.1 704.7 L1240.7 701.1 L1241.2 697.5 L1241.8 693.9 L1242.4 690.3 L1243.0 686.7 L1243.6 683.1 L1244.2 679.5 L1244.7 675.9 L1245.2 672.3 L1245.6 668.7 L1245.9 665.1 L1246.2 661.5 L1246.3 657.9 L1246.3 654.3Z"/></clipPath>
<line x1="1246.3" y1="652.3" x2="1236.3" y2="800.3" stroke="#7CAE00" stroke-width="6" stroke-opacity="0.26" clip-path="url(#c17)"/>
<line x1="1230.8" x2="1230.8" y1="654.3" y2="798.3" stroke="#7CAE00" stroke-width="2" stroke-opacity="0.6"/>
<rect x="1224.4" y="690.3" width="12.8" height="72.0" fill="#7CAE00"/>
<path d="M1264.0 908.3 L1264.1 910.4 L1264.3 912.4 L1264.7 914.5 L1265.3 916.6 L1266.0 918.6 L1266.8 920.7 L1267.7 922.8 L1268.7 924.9 L1269.7 926.9 L1270.8 929.0 L1271.9 931.1 L1272.9 933.1 L1273.9 935.2 L1274.8 937.3 L1275.6 939.4 L1276.3 941.4 L1276.8 943.5 L1277.2 945.6 L1277.5 947.6 L1277.6 949.7 L1277.5 951.8 L1277.2 953.8 L1276.8 955.9 L1276.3 958.0 L1275.6 960.0 L1274.8 962.1 L1273.9 964.2 L1272.9 966.3 L1271.9 968.3 L1270.8 970.4 L1269.7 972.5 L1268.7 974.5 L1267.7 976.6 L1266.8 978.7 L1266.0 980.8 L1265.3 982.8 L1264.7 984.9 L1264.3 987.0 L1264.1 989.0 L1264.0 991.1 L1317.9 991.1 L1317.8 989.0 L1317.6 987.0 L1317.2 984.9 L1316.6 982.8 L1315.9 980.8 L1315.1 978.7 L1314.2 976.6 L1313.2 974.5 L1312.2 972.5 L1311.1 970.4 L1310.0 968.3 L1309.0 966.3 L1308.0 964.2 L1307.1 962.1 L1306.3 960.0 L1305.6 958.0 L1305.1 955.9 L1304.7 953.8 L1304.4 951.8 L1304.3 949.7 L1304.4 947.6 L1304.7 945.6 L1305.1 943.5 L1305.6 941.4 L1306.3 939.4 L1307.1 937.3 L1308.0 935.2 L1309.0 933.1 L1310.0 931.1 L1311.1 929.0 L1312.2 926.9 L1313.2 924.9 L1314.2 922.8 L1315.1 920.7 L1315.9 918.6 L1316.6 916.6 L1317.2 914.5 L1317.6 912.4 L1317.8 910.4 L1317.9 908.3Z" fill="#00C8CC" fill-opacity="0.4" stroke="#12ACAA" stroke-width="1.6" stroke-linejoin="round"/>
<clipPath id="c18"><path d="M1264.0 908.3 L1264.1 910.4 L1264.3 912.4 L1264.7 914.5 L1265.3 916.6 L1266.0 918.6 L1266.8 920.7 L1267.7 922.8 L1268.7 924.9 L1269.7 926.9 L1270.8 929.0 L1271.9 931.1 L1272.9 933.1 L1273.9 935.2 L1274.8 937.3 L1275.6 939.4 L1276.3 941.4 L1276.8 943.5 L1277.2 945.6 L1277.5 947.6 L1277.6 949.7 L1277.5 951.8 L1277.2 953.8 L1276.8 955.9 L1276.3 958.0 L1275.6 960.0 L1274.8 962.1 L1273.9 964.2 L1272.9 966.3 L1271.9 968.3 L1270.8 970.4 L1269.7 972.5 L1268.7 974.5 L1267.7 976.6 L1266.8 978.7 L1266.0 980.8 L1265.3 982.8 L1264.7 984.9 L1264.3 987.0 L1264.1 989.0 L1264.0 991.1 L1317.9 991.1 L1317.8 989.0 L1317.6 987.0 L1317.2 984.9 L1316.6 982.8 L1315.9 980.8 L1315.1 978.7 L1314.2 976.6 L1313.2 974.5 L1312.2 972.5 L1311.1 970.4 L1310.0 968.3 L1309.0 966.3 L1308.0 964.2 L1307.1 962.1 L1306.3 960.0 L1305.6 958.0 L1305.1 955.9 L1304.7 953.8 L1304.4 951.8 L1304.3 949.7 L1304.4 947.6 L1304.7 945.6 L1305.1 943.5 L1305.6 941.4 L1306.3 939.4 L1307.1 937.3 L1308.0 935.2 L1309.0 933.1 L1310.0 931.1 L1311.1 929.0 L1312.2 926.9 L1313.2 924.9 L1314.2 922.8 L1315.1 920.7 L1315.9 918.6 L1316.6 916.6 L1317.2 914.5 L1317.6 912.4 L1317.8 910.4 L1317.9 908.3Z"/></clipPath>
<line x1="1306.4" y1="906.3" x2="1296.4" y2="993.1" stroke="#00BFC4" stroke-width="6" stroke-opacity="0.26" clip-path="url(#c18)"/>
<line x1="1290.9" x2="1290.9" y1="908.3" y2="991.1" stroke="#00BFC4" stroke-width="2" stroke-opacity="0.6"/>
<rect x="1284.5" y="929.0" width="12.8" height="41.4" fill="#00BFC4"/>
<path d="M1356.7 350.1 L1356.7 353.9 L1356.8 357.7 L1357.1 361.5 L1357.4 365.3 L1357.7 369.2 L1358.2 373.0 L1358.7 376.8 L1359.2 380.6 L1359.8 384.4 L1360.4 388.2 L1361.0 392.0 L1361.5 395.8 L1362.1 399.6 L1362.5 403.4 L1363.0 407.2 L1363.4 411.1 L1363.7 414.9 L1363.9 418.7 L1364.0 422.5 L1364.1 426.3 L1364.0 430.1 L1363.9 433.9 L1363.7 437.7 L1363.4 441.5 L1363.0 445.4 L1362.5 449.2 L1362.1 453.0 L1361.5 456.8 L1361.0 460.6 L1360.4 464.4 L1359.8 468.2 L1359.2 472.0 L1358.7 475.8 L1358.2 479.6 L1357.7 483.4 L1357.4 487.3 L1357.1 491.1 L1356.8 494.9 L1356.7 498.7 L1356.7 502.5 L1386.0 502.5 L1385.9 498.7 L1385.8 494.9 L1385.6 491.1 L1385.3 487.3 L1384.9 483.4 L1384.4 479.6 L1383.9 475.8 L1383.4 472.0 L1382.8 468.2 L1382.3 464.4 L1381.7 460.6 L1381.1 456.8 L1380.6 453.0 L1380.1 449.2 L1379.7 445.4 L1379.3 441.5 L1379.0 437.7 L1378.8 433.9 L1378.6 430.1 L1378.6 426.3 L1378.6 422.5 L1378.8 418.7 L1379.0 414.9 L1379.3 411.1 L1379.7 407.2 L1380.1 403.4 L1380.6 399.6 L1381.1 395.8 L1381.7 392.0 L1382.3 388.2 L1382.8 384.4 L1383.4 380.6 L1383.9 376.8 L1384.4 373.0 L1384.9 369.2 L1385.3 365.3 L1385.6 361.5 L1385.8 357.7 L1385.9 353.9 L1386.0 350.1Z" fill="#F8766D" fill-opacity="0.38" stroke="#EE7870" stroke-width="1.6" stroke-linejoin="round"/>
<clipPath id="c19"><path d="M1356.7 350.1 L1356.7 353.9 L1356.8 357.7 L1357.1 361.5 L1357.4 365.3 L1357.7 369.2 L1358.2 373.0 L1358.7 376.8 L1359.2 380.6 L1359.8 384.4 L1360.4 388.2 L1361.0 392.0 L1361.5 395.8 L1362.1 399.6 L1362.5 403.4 L1363.0 407.2 L1363.4 411.1 L1363.7 414.9 L1363.9 418.7 L1364.0 422.5 L1364.1 426.3 L1364.0 430.1 L1363.9 433.9 L1363.7 437.7 L1363.4 441.5 L1363.0 445.4 L1362.5 449.2 L1362.1 453.0 L1361.5 456.8 L1361.0 460.6 L1360.4 464.4 L1359.8 468.2 L1359.2 472.0 L1358.7 475.8 L1358.2 479.6 L1357.7 483.4 L1357.4 487.3 L1357.1 491.1 L1356.8 494.9 L1356.7 498.7 L1356.7 502.5 L1386.0 502.5 L1385.9 498.7 L1385.8 494.9 L1385.6 491.1 L1385.3 487.3 L1384.9 483.4 L1384.4 479.6 L1383.9 475.8 L1383.4 472.0 L1382.8 468.2 L1382.3 464.4 L1381.7 460.6 L1381.1 456.8 L1380.6 453.0 L1380.1 449.2 L1379.7 445.4 L1379.3 441.5 L1379.0 437.7 L1378.8 433.9 L1378.6 430.1 L1378.6 426.3 L1378.6 422.5 L1378.8 418.7 L1379.0 414.9 L1379.3 411.1 L1379.7 407.2 L1380.1 403.4 L1380.6 399.6 L1381.1 395.8 L1381.7 392.0 L1382.3 388.2 L1382.8 384.4 L1383.4 380.6 L1383.9 376.8 L1384.4 373.0 L1384.9 369.2 L1385.3 365.3 L1385.6 361.5 L1385.8 357.7 L1385.9 353.9 L1386.0 350.1Z"/></clipPath>
<line x1="1386.8" y1="348.1" x2="1376.8" y2="504.5" stroke="#F8766D" stroke-width="6" stroke-opacity="0.26" clip-path="url(#c19)"/>
<line x1="1371.3" x2="1371.3" y1="350.1" y2="502.5" stroke="#F8766D" stroke-width="2" stroke-opacity="0.6"/>
<rect x="1364.9" y="388.2" width="12.8" height="76.2" fill="#F8766D"/>
<path d="M1412.0 503.4 L1412.1 506.3 L1412.2 509.1 L1412.5 512.0 L1412.9 514.9 L1413.4 517.8 L1414.0 520.6 L1414.7 523.5 L1415.4 526.4 L1416.1 529.3 L1416.9 532.1 L1417.7 535.0 L1418.4 537.9 L1419.1 540.7 L1419.8 543.6 L1420.4 546.5 L1420.9 549.4 L1421.3 552.2 L1421.5 555.1 L1421.7 558.0 L1421.8 560.8 L1421.7 563.7 L1421.5 566.6 L1421.3 569.5 L1420.9 572.3 L1420.4 575.2 L1419.8 578.1 L1419.1 581.0 L1418.4 583.8 L1417.7 586.7 L1416.9 589.6 L1416.1 592.4 L1415.4 595.3 L1414.7 598.2 L1414.0 601.1 L1413.4 603.9 L1412.9 606.8 L1412.5 609.7 L1412.2 612.6 L1412.1 615.4 L1412.0 618.3 L1450.8 618.3 L1450.8 615.4 L1450.6 612.6 L1450.3 609.7 L1449.9 606.8 L1449.4 603.9 L1448.8 601.1 L1448.2 598.2 L1447.5 595.3 L1446.7 592.4 L1445.9 589.6 L1445.2 586.7 L1444.4 583.8 L1443.7 581.0 L1443.1 578.1 L1442.5 575.2 L1442.0 572.3 L1441.6 569.5 L1441.3 566.6 L1441.1 563.7 L1441.1 560.8 L1441.1 558.0 L1441.3 555.1 L1441.6 552.2 L1442.0 549.4 L1442.5 546.5 L1443.1 543.6 L1443.7 540.7 L1444.4 537.9 L1445.2 535.0 L1445.9 532.1 L1446.7 529.3 L1447.5 526.4 L1448.2 523.5 L1448.8 520.6 L1449.4 517.8 L1449.9 514.9 L1450.3 512.0 L1450.6 509.1 L1450.8 506.3 L1450.8 503.4Z" fill="#94D200" fill-opacity="0.45" stroke="#72A200" stroke-width="1.6" stroke-linejoin="round"/>
<clipPath id="c20"><path d="M1412.0 503.4 L1412.1 506.3 L1412.2 509.1 L1412.5 512.0 L1412.9 514.9 L1413.4 517.8 L1414.0 520.6 L1414.7 523.5 L1415.4 526.4 L1416.1 529.3 L1416.9 532.1 L1417.7 535.0 L1418.4 537.9 L1419.1 540.7 L1419.8 543.6 L1420.4 546.5 L1420.9 549.4 L1421.3 552.2 L1421.5 555.1 L1421.7 558.0 L1421.8 560.8 L1421.7 563.7 L1421.5 566.6 L1421.3 569.5 L1420.9 572.3 L1420.4 575.2 L1419.8 578.1 L1419.1 581.0 L1418.4 583.8 L1417.7 586.7 L1416.9 589.6 L1416.1 592.4 L1415.4 595.3 L1414.7 598.2 L1414.0 601.1 L1413.4 603.9 L1412.9 606.8 L1412.5 609.7 L1412.2 612.6 L1412.1 615.4 L1412.0 618.3 L1450.8 618.3 L1450.8 615.4 L1450.6 612.6 L1450.3 609.7 L1449.9 606.8 L1449.4 603.9 L1448.8 601.1 L1448.2 598.2 L1447.5 595.3 L1446.7 592.4 L1445.9 589.6 L1445.2 586.7 L1444.4 583.8 L1443.7 581.0 L1443.1 578.1 L1442.5 575.2 L1442.0 572.3 L1441.6 569.5 L1441.3 566.6 L1441.1 563.7 L1441.1 560.8 L1441.1 558.0 L1441.3 555.1 L1441.6 552.2 L1442.0 549.4 L1442.5 546.5 L1443.1 543.6 L1443.7 540.7 L1444.4 537.9 L1445.2 535.0 L1445.9 532.1 L1446.7 529.3 L1447.5 526.4 L1448.2 523.5 L1448.8 520.6 L1449.4 517.8 L1449.9 514.9 L1450.3 512.0 L1450.6 509.1 L1450.8 506.3 L1450.8 503.4Z"/></clipPath>
<line x1="1446.9" y1="501.4" x2="1436.9" y2="620.3" stroke="#7CAE00" stroke-width="6" stroke-opacity="0.26" clip-path="url(#c20)"/>
<line x1="1431.4" x2="1431.4" y1="503.4" y2="618.3" stroke="#7CAE00" stroke-width="2" stroke-opacity="0.6"/>
<rect x="1425.0" y="532.1" width="12.8" height="57.4" fill="#7CAE00"/>
<path d="M1475.5 610.1 L1475.5 613.6 L1475.6 617.0 L1475.9 620.5 L1476.2 624.0 L1476.6 627.5 L1477.1 630.9 L1477.7 634.4 L1478.2 637.9 L1478.9 641.3 L1479.5 644.8 L1480.1 648.3 L1480.8 651.7 L1481.3 655.2 L1481.9 658.7 L1482.4 662.1 L1482.8 665.6 L1483.1 669.1 L1483.3 672.6 L1483.5 676.0 L1483.5 679.5 L1483.5 683.0 L1483.3 686.4 L1483.1 689.9 L1482.8 693.4 L1482.4 696.9 L1481.9 700.3 L1481.3 703.8 L1480.8 707.3 L1480.1 710.7 L1479.5 714.2 L1478.9 717.7 L1478.2 721.1 L1477.7 724.6 L1477.1 728.1 L1476.6 731.5 L1476.2 735.0 L1475.9 738.5 L1475.6 742.0 L1475.5 745.4 L1475.5 748.9 L1507.6 748.9 L1507.6 745.4 L1507.4 742.0 L1507.2 738.5 L1506.8 735.0 L1506.4 731.5 L1505.9 728.1 L1505.4 724.6 L1504.8 721.1 L1504.2 717.7 L1503.5 714.2 L1502.9 710.7 L1502.3 707.3 L1501.7 703.8 L1501.2 700.3 L1500.7 696.9 L1500.3 693.4 L1499.9 689.9 L1499.7 686.4 L1499.6 683.0 L1499.5 679.5 L1499.6 676.0 L1499.7 672.6 L1499.9 669.1 L1500.3 665.6 L1500.7 662.1 L1501.2 658.7 L1501.7 655.2 L1502.3 651.7 L1502.9 648.3 L1503.5 644.8 L1504.2 641.3 L1504.8 637.9 L1505.4 634.4 L1505.9 630.9 L1506.4 627.5 L1506.8 624.0 L1507.2 620.5 L1507.4 617.0 L1507.6 613.6 L1507.6 610.1Z" fill="#00C8CC" fill-opacity="0.4" stroke="#12ACAA" stroke-width="1.6" stroke-linejoin="round"/>
<clipPath id="c21"><path d="M1475.5 610.1 L1475.5 613.6 L1475.6 617.0 L1475.9 620.5 L1476.2 624.0 L1476.6 627.5 L1477.1 630.9 L1477.7 634.4 L1478.2 637.9 L1478.9 641.3 L1479.5 644.8 L1480.1 648.3 L1480.8 651.7 L1481.3 655.2 L1481.9 658.7 L1482.4 662.1 L1482.8 665.6 L1483.1 669.1 L1483.3 672.6 L1483.5 676.0 L1483.5 679.5 L1483.5 683.0 L1483.3 686.4 L1483.1 689.9 L1482.8 693.4 L1482.4 696.9 L1481.9 700.3 L1481.3 703.8 L1480.8 707.3 L1480.1 710.7 L1479.5 714.2 L1478.9 717.7 L1478.2 721.1 L1477.7 724.6 L1477.1 728.1 L1476.6 731.5 L1476.2 735.0 L1475.9 738.5 L1475.6 742.0 L1475.5 745.4 L1475.5 748.9 L1507.6 748.9 L1507.6 745.4 L1507.4 742.0 L1507.2 738.5 L1506.8 735.0 L1506.4 731.5 L1505.9 728.1 L1505.4 724.6 L1504.8 721.1 L1504.2 717.7 L1503.5 714.2 L1502.9 710.7 L1502.3 707.3 L1501.7 703.8 L1501.2 700.3 L1500.7 696.9 L1500.3 693.4 L1499.9 689.9 L1499.7 686.4 L1499.6 683.0 L1499.5 679.5 L1499.6 676.0 L1499.7 672.6 L1499.9 669.1 L1500.3 665.6 L1500.7 662.1 L1501.2 658.7 L1501.7 655.2 L1502.3 651.7 L1502.9 648.3 L1503.5 644.8 L1504.2 641.3 L1504.8 637.9 L1505.4 634.4 L1505.9 630.9 L1506.4 627.5 L1506.8 624.0 L1507.2 620.5 L1507.4 617.0 L1507.6 613.6 L1507.6 610.1Z"/></clipPath>
<line x1="1507.0" y1="608.1" x2="1497.0" y2="750.9" stroke="#00BFC4" stroke-width="6" stroke-opacity="0.26" clip-path="url(#c21)"/>
<line x1="1491.5" x2="1491.5" y1="610.1" y2="748.9" stroke="#00BFC4" stroke-width="2" stroke-opacity="0.6"/>
<rect x="1485.1" y="644.8" width="12.8" height="69.4" fill="#00BFC4"/>
<path d="M161.3 415.5H174.5M161.3 472.5H174.5M167.9 415.5V472.5" stroke="#000" stroke-width="2.2" fill="none"/>
<path d="M161.3 576.7H174.5M161.3 626.9H174.5M167.9 576.7V626.9" stroke="#000" stroke-width="2.2" fill="none"/>
<circle cx="152.8" cy="601.8" r="5.2" fill="#F8766D" fill-opacity="0.8"/>
<path d="M243.0 436.6L249.8 448.4L236.2 448.4Z" fill="#F8766D" fill-opacity="0.8"/>
<path d="M221.4 558.8H234.6M221.4 615.8H234.6M228.0 558.8V615.8" stroke="#000" stroke-width="2.2" fill="none"/>
<path d="M221.4 693.6H234.6M221.4 743.8H234.6M228.0 693.6V743.8" stroke="#000" stroke-width="2.2" fill="none"/>
<circle cx="182.9" cy="718.7" r="5.2" fill="#7CAE00" fill-opacity="0.8"/>
<path d="M273.1 579.9L279.9 591.8L266.3 591.8Z" fill="#7CAE00" fill-opacity="0.8"/>
<path d="M281.5 751.2H294.7M281.5 808.2H294.7M288.1 751.2V808.2" stroke="#000" stroke-width="2.2" fill="none"/>
<path d="M281.5 858.9H294.7M281.5 909.1H294.7M288.1 858.9V909.1" stroke="#000" stroke-width="2.2" fill="none"/>
<circle cx="213.0" cy="884.0" r="5.2" fill="#00BFC4" fill-opacity="0.8"/>
<path d="M303.2 772.3L310.0 784.2L296.4 784.2Z" fill="#00BFC4" fill-opacity="0.8"/>
<path d="M361.9 56.3H375.1M361.9 113.3H375.1M368.5 56.3V113.3" stroke="#000" stroke-width="2.2" fill="none"/>
<path d="M361.9 281.6H375.1M361.9 331.8H375.1M368.5 281.6V331.8" stroke="#000" stroke-width="2.2" fill="none"/>
<circle cx="353.4" cy="306.7" r="5.2" fill="#F8766D" fill-opacity="0.8"/>
<path d="M443.6 77.4L450.4 89.2L436.7 89.2Z" fill="#F8766D" fill-opacity="0.8"/>
<path d="M422.0 260.3H435.2M422.0 317.3H435.2M428.6 260.3V317.3" stroke="#000" stroke-width="2.2" fill="none"/>
<path d="M422.0 482.8H435.2M422.0 533.0H435.2M428.6 482.8V533.0" stroke="#000" stroke-width="2.2" fill="none"/>
<circle cx="383.5" cy="507.9" r="5.2" fill="#7CAE00" fill-opacity="0.8"/>
<path d="M473.7 281.4L480.5 293.2L466.8 293.2Z" fill="#7CAE00" fill-opacity="0.8"/>
<path d="M482.1 701.6H495.3M482.1 758.6H495.3M488.7 701.6V758.6" stroke="#000" stroke-width="2.2" fill="none"/>
<path d="M482.1 795.8H495.3M482.1 846.0H495.3M488.7 795.8V846.0" stroke="#000" stroke-width="2.2" fill="none"/>
<circle cx="413.6" cy="820.9" r="5.2" fill="#00BFC4" fill-opacity="0.8"/>
<path d="M503.8 722.7L510.6 734.6L496.9 734.6Z" fill="#00BFC4" fill-opacity="0.8"/>
<path d="M562.4 109.7H575.6M562.4 166.7H575.6M569.0 109.7V166.7" stroke="#000" stroke-width="2.2" fill="none"/>
<path d="M562.4 295.3H575.6M562.4 345.5H575.6M569.0 295.3V345.5" stroke="#000" stroke-width="2.2" fill="none"/>
<circle cx="553.9" cy="320.4" r="5.2" fill="#F8766D" fill-opacity="0.8"/>
<path d="M644.1 130.8L651.0 142.6L637.3 142.6Z" fill="#F8766D" fill-opacity="0.8"/>
<path d="M622.5 291.8H635.7M622.5 348.8H635.7M629.1 291.8V348.8" stroke="#000" stroke-width="2.2" fill="none"/>
<path d="M622.5 498.1H635.7M622.5 548.3H635.7M629.1 498.1V548.3" stroke="#000" stroke-width="2.2" fill="none"/>
<circle cx="584.0" cy="523.2" r="5.2" fill="#7CAE00" fill-opacity="0.8"/>
<path d="M674.2 312.9L681.1 324.8L667.4 324.8Z" fill="#7CAE00" fill-opacity="0.8"/>
<path d="M682.6 715.0H695.8M682.6 772.0H695.8M689.2 715.0V772.0" stroke="#000" stroke-width="2.2" fill="none"/>
<path d="M682.6 829.3H695.8M682.6 879.5H695.8M689.2 829.3V879.5" stroke="#000" stroke-width="2.2" fill="none"/>
<circle cx="614.1" cy="854.4" r="5.2" fill="#00BFC4" fill-opacity="0.8"/>
<path d="M704.3 736.1L711.2 748.0L697.5 748.0Z" fill="#00BFC4" fill-opacity="0.8"/>
<path d="M763.0 171.6H776.2M763.0 228.6H776.2M769.6 171.6V228.6" stroke="#000" stroke-width="2.2" fill="none"/>
<path d="M763.0 365.3H776.2M763.0 415.5H776.2M769.6 365.3V415.5" stroke="#000" stroke-width="2.2" fill="none"/>
<circle cx="754.5" cy="390.4" r="5.2" fill="#F8766D" fill-opacity="0.8"/>
<path d="M844.7 192.7L851.6 204.5L837.9 204.5Z" fill="#F8766D" fill-opacity="0.8"/>
<path d="M823.1 336.8H836.3M823.1 393.8H836.3M829.7 336.8V393.8" stroke="#000" stroke-width="2.2" fill="none"/>
<path d="M823.1 536.2H836.3M823.1 586.4H836.3M829.7 536.2V586.4" stroke="#000" stroke-width="2.2" fill="none"/>
<circle cx="784.6" cy="561.3" r="5.2" fill="#7CAE00" fill-opacity="0.8"/>
<path d="M874.8 357.9L881.7 369.8L868.0 369.8Z" fill="#7CAE00" fill-opacity="0.8"/>
<path d="M883.2 776.2H896.4M883.2 833.2H896.4M889.8 776.2V833.2" stroke="#000" stroke-width="2.2" fill="none"/>
<path d="M883.2 852.6H896.4M883.2 902.8H896.4M889.8 852.6V902.8" stroke="#000" stroke-width="2.2" fill="none"/>
<circle cx="814.7" cy="877.7" r="5.2" fill="#00BFC4" fill-opacity="0.8"/>
<path d="M904.9 797.3L911.8 809.2L898.1 809.2Z" fill="#00BFC4" fill-opacity="0.8"/>
<path d="M963.6 463.8H976.8M963.6 520.8H976.8M970.2 463.8V520.8" stroke="#000" stroke-width="2.2" fill="none"/>
<path d="M963.6 647.1H976.8M963.6 697.3H976.8M970.2 647.1V697.3" stroke="#000" stroke-width="2.2" fill="none"/>
<circle cx="955.1" cy="672.2" r="5.2" fill="#F8766D" fill-opacity="0.8"/>
<path d="M1045.3 484.9L1052.1 496.8L1038.4 496.8Z" fill="#F8766D" fill-opacity="0.8"/>
<path d="M1023.7 563.0H1036.9M1023.7 620.0H1036.9M1030.3 563.0V620.0" stroke="#000" stroke-width="2.2" fill="none"/>
<path d="M1023.7 734.1H1036.9M1023.7 784.3H1036.9M1030.3 734.1V784.3" stroke="#000" stroke-width="2.2" fill="none"/>
<circle cx="985.2" cy="759.2" r="5.2" fill="#7CAE00" fill-opacity="0.8"/>
<path d="M1075.4 584.1L1082.2 596.0L1068.5 596.0Z" fill="#7CAE00" fill-opacity="0.8"/>
<path d="M1083.8 855.9H1097.0M1083.8 912.9H1097.0M1090.4 855.9V912.9" stroke="#000" stroke-width="2.2" fill="none"/>
<path d="M1083.8 951.1H1097.0M1083.8 1001.3H1097.0M1090.4 951.1V1001.3" stroke="#000" stroke-width="2.2" fill="none"/>
<circle cx="1015.3" cy="976.2" r="5.2" fill="#00BFC4" fill-opacity="0.8"/>
<path d="M1105.5 877.0L1112.3 888.9L1098.6 888.9Z" fill="#00BFC4" fill-opacity="0.8"/>
<path d="M1164.2 527.2H1177.3M1164.2 584.2H1177.3M1170.8 527.2V584.2" stroke="#000" stroke-width="2.2" fill="none"/>
<path d="M1164.2 685.2H1177.3M1164.2 735.4H1177.3M1170.8 685.2V735.4" stroke="#000" stroke-width="2.2" fill="none"/>
<circle cx="1155.6" cy="710.3" r="5.2" fill="#F8766D" fill-opacity="0.8"/>
<path d="M1245.8 548.3L1252.7 560.2L1239.0 560.2Z" fill="#F8766D" fill-opacity="0.8"/>
<path d="M1224.2 625.8H1237.4M1224.2 682.8H1237.4M1230.8 625.8V682.8" stroke="#000" stroke-width="2.2" fill="none"/>
<path d="M1224.2 773.2H1237.4M1224.2 823.4H1237.4M1230.8 773.2V823.4" stroke="#000" stroke-width="2.2" fill="none"/>
<circle cx="1185.8" cy="798.3" r="5.2" fill="#7CAE00" fill-opacity="0.8"/>
<path d="M1275.9 646.9L1282.8 658.8L1269.1 658.8Z" fill="#7CAE00" fill-opacity="0.8"/>
<path d="M1284.3 879.8H1297.5M1284.3 936.8H1297.5M1290.9 879.8V936.8" stroke="#000" stroke-width="2.2" fill="none"/>
<path d="M1284.3 966.0H1297.5M1284.3 1016.2H1297.5M1290.9 966.0V1016.2" stroke="#000" stroke-width="2.2" fill="none"/>
<circle cx="1215.8" cy="991.1" r="5.2" fill="#00BFC4" fill-opacity="0.8"/>
<path d="M1306.0 900.9L1312.9 912.8L1299.2 912.8Z" fill="#00BFC4" fill-opacity="0.8"/>
<path d="M1364.7 321.6H1377.9M1364.7 378.6H1377.9M1371.3 321.6V378.6" stroke="#000" stroke-width="2.2" fill="none"/>
<path d="M1364.7 477.4H1377.9M1364.7 527.6H1377.9M1371.3 477.4V527.6" stroke="#000" stroke-width="2.2" fill="none"/>
<circle cx="1356.2" cy="502.5" r="5.2" fill="#F8766D" fill-opacity="0.8"/>
<path d="M1446.4 342.7L1453.3 354.6L1439.6 354.6Z" fill="#F8766D" fill-opacity="0.8"/>
<path d="M1424.8 474.9H1438.0M1424.8 531.9H1438.0M1431.4 474.9V531.9" stroke="#000" stroke-width="2.2" fill="none"/>
<path d="M1424.8 593.2H1438.0M1424.8 643.4H1438.0M1431.4 593.2V643.4" stroke="#000" stroke-width="2.2" fill="none"/>
<circle cx="1386.3" cy="618.3" r="5.2" fill="#7CAE00" fill-opacity="0.8"/>
<path d="M1476.5 496.0L1483.4 507.8L1469.7 507.8Z" fill="#7CAE00" fill-opacity="0.8"/>
<path d="M1484.9 581.6H1498.1M1484.9 638.6H1498.1M1491.5 581.6V638.6" stroke="#000" stroke-width="2.2" fill="none"/>
<path d="M1484.9 723.8H1498.1M1484.9 774.0H1498.1M1491.5 723.8V774.0" stroke="#000" stroke-width="2.2" fill="none"/>
<circle cx="1416.4" cy="748.9" r="5.2" fill="#00BFC4" fill-opacity="0.8"/>
<path d="M1506.6 602.7L1513.5 614.6L1499.8 614.6Z" fill="#00BFC4" fill-opacity="0.8"/>
<path d="M1588.2 525.9 L1588.3 529.6 L1588.7 533.3 L1589.4 536.9 L1590.3 540.6 L1591.4 544.3 L1592.8 548.0 L1594.2 551.6 L1595.9 555.3 L1597.6 559.0 L1599.3 562.7 L1601.0 566.4 L1602.7 570.0 L1604.3 573.7 L1605.8 577.4 L1607.1 581.1 L1608.2 584.7 L1609.1 588.4 L1609.7 592.1 L1610.1 595.8 L1610.3 599.5 L1610.1 603.1 L1609.7 606.8 L1609.1 610.5 L1608.2 614.2 L1607.1 617.8 L1605.8 621.5 L1604.3 625.2 L1602.7 628.9 L1601.0 632.5 L1599.3 636.2 L1597.6 639.9 L1595.9 643.6 L1594.2 647.3 L1592.8 650.9 L1591.4 654.6 L1590.3 658.3 L1589.4 662.0 L1588.7 665.6 L1588.3 669.3 L1588.2 673.0 L1675.8 673.0 L1675.7 669.3 L1675.3 665.6 L1674.6 662.0 L1673.7 658.3 L1672.6 654.6 L1671.2 650.9 L1669.8 647.3 L1668.1 643.6 L1666.4 639.9 L1664.7 636.2 L1663.0 632.5 L1661.3 628.9 L1659.7 625.2 L1658.2 621.5 L1656.9 617.8 L1655.8 614.2 L1654.9 610.5 L1654.3 606.8 L1653.9 603.1 L1653.7 599.5 L1653.9 595.8 L1654.3 592.1 L1654.9 588.4 L1655.8 584.7 L1656.9 581.1 L1658.2 577.4 L1659.7 573.7 L1661.3 570.0 L1663.0 566.4 L1664.7 562.7 L1666.4 559.0 L1668.1 555.3 L1669.8 551.6 L1671.2 548.0 L1672.6 544.3 L1673.7 540.6 L1674.6 536.9 L1675.3 533.3 L1675.7 529.6 L1675.8 525.9Z" fill="#C77CFF" fill-opacity="0.4" stroke="#BD80F2" stroke-width="1.6" stroke-linejoin="round"/>
<clipPath id="c22"><path d="M1588.2 525.9 L1588.3 529.6 L1588.7 533.3 L1589.4 536.9 L1590.3 540.6 L1591.4 544.3 L1592.8 548.0 L1594.2 551.6 L1595.9 555.3 L1597.6 559.0 L1599.3 562.7 L1601.0 566.4 L1602.7 570.0 L1604.3 573.7 L1605.8 577.4 L1607.1 581.1 L1608.2 584.7 L1609.1 588.4 L1609.7 592.1 L1610.1 595.8 L1610.3 599.5 L1610.1 603.1 L1609.7 606.8 L1609.1 610.5 L1608.2 614.2 L1607.1 617.8 L1605.8 621.5 L1604.3 625.2 L1602.7 628.9 L1601.0 632.5 L1599.3 636.2 L1597.6 639.9 L1595.9 643.6 L1594.2 647.3 L1592.8 650.9 L1591.4 654.6 L1590.3 658.3 L1589.4 662.0 L1588.7 665.6 L1588.3 669.3 L1588.2 673.0 L1675.8 673.0 L1675.7 669.3 L1675.3 665.6 L1674.6 662.0 L1673.7 658.3 L1672.6 654.6 L1671.2 650.9 L1669.8 647.3 L1668.1 643.6 L1666.4 639.9 L1664.7 636.2 L1663.0 632.5 L1661.3 628.9 L1659.7 625.2 L1658.2 621.5 L1656.9 617.8 L1655.8 614.2 L1654.9 610.5 L1654.3 606.8 L1653.9 603.1 L1653.7 599.5 L1653.9 595.8 L1654.3 592.1 L1654.9 588.4 L1655.8 584.7 L1656.9 581.1 L1658.2 577.4 L1659.7 573.7 L1661.3 570.0 L1663.0 566.4 L1664.7 562.7 L1666.4 559.0 L1668.1 555.3 L1669.8 551.6 L1671.2 548.0 L1672.6 544.3 L1673.7 540.6 L1674.6 536.9 L1675.3 533.3 L1675.7 529.6 L1675.8 525.9Z"/></clipPath>
<line x1="1635.8" y1="525.9" x2="1639.0" y2="673.0" stroke="#C77CFF" stroke-width="4" stroke-opacity="0.22" clip-path="url(#c22)"/>
<line x1="1632.0" x2="1632.0" y1="525.9" y2="673.0" stroke="#C77CFF" stroke-width="2" stroke-opacity="0.6"/>
<rect x="1616.0" y="562.7" width="32.0" height="73.6" fill="#C77CFF"/>
<path d="M1612.2 497.4H1651.8M1612.2 554.4H1651.8M1632.0 497.4V554.4" stroke="#000" stroke-width="2.2" fill="none"/>
<path d="M1612.2 647.9H1651.8M1612.2 698.1H1651.8M1632.0 647.9V698.1" stroke="#000" stroke-width="2.2" fill="none"/>
<circle cx="1586.9" cy="673.0" r="5.2" fill="#C77CFF" fill-opacity="0.8"/>
<path d="M1677.1 518.5L1683.9 530.4L1670.3 530.4Z" fill="#C77CFF" fill-opacity="0.8"/>
<line x1="127.2" x2="127.2" y1="9" y2="1064" stroke="#333" stroke-width="2.2"/>
<line x1="107" x2="1752" y1="1017" y2="1017" stroke="#333" stroke-width="2.2"/>
<text class="b" x="98.8" y="1023.8" font-size="20" text-anchor="end">0</text>
<text class="b" x="98.8" y="806.1" font-size="20" text-anchor="end">500</text>
<text class="b" x="98.8" y="588.5" font-size="20" text-anchor="end">1000</text>
<text class="b" x="98.8" y="370.8" font-size="20" text-anchor="end">1500</text>
<text class="b" x="98.8" y="153.2" font-size="20" text-anchor="end">2000</text>
<text class="b" font-size="19.2" text-anchor="end" transform="translate(243.8 1041.4) rotate(-45)">14 DAS</text>
<text class="b" font-size="19.2" text-anchor="end" transform="translate(444.4 1041.4) rotate(-45)">21 DAS</text>
<text class="b" font-size="19.2" text-anchor="end" transform="translate(644.9 1041.4) rotate(-45)">28 DAS</text>
<text class="b" font-size="19.2" text-anchor="end" transform="translate(845.5 1041.4) rotate(-45)">35 DAS</text>
<text class="b" font-size="19.2" text-anchor="end" transform="translate(1046.1 1041.4) rotate(-45)">42 DAS</text>
<text class="b" font-size="19.2" text-anchor="end" transform="translate(1246.6 1041.4) rotate(-45)">49 DAS</text>
<text class="b" font-size="19.2" text-anchor="end" transform="translate(1447.2 1041.4) rotate(-45)">DS</text>
<text class="b" font-size="19.2" text-anchor="end" transform="translate(1647.8 1041.4) rotate(-45)">Average</text>
<text class="b" font-size="30.8" text-anchor="middle" x="929.7" y="1134.4">Age of Seedling (DAS)</text>
<text class="b" font-size="30.8" text-anchor="middle" transform="translate(38.8 535.8) rotate(-90)">Net Return (USD ha<tspan font-size="21" font-weight="normal" dy="-13.5">−1</tspan><tspan dy="13.5"> )</tspan></text>
<text class="b" font-size="23" x="1784.6" y="403.5">Year</text>
<circle cx="1800.6" cy="432.2" r="10" fill="none" stroke="#000" stroke-width="2.7"/>
<path d="M1800.6 451.6L1813.5 473.4H1787.7Z" fill="none" stroke="#000" stroke-width="2.7" stroke-linejoin="miter"/>
<text font-size="19.4" x="1827.6" y="438.3">2013−14</text>
<text font-size="19.4" x="1827.6" y="472.2">2014−15</text>
<text class="b" font-size="23.3" x="1784.1" y="542.9">Genotype</text>
<rect x="1784.9" y="557.7" width="31.8" height="30.6" fill="#F8766D" fill-opacity="0.78" stroke="#EE7870" stroke-width="1.2"/>
<rect x="1788" y="563.4" width="25.6" height="19" fill="#F8766D"/>
<path d="M1787.5 561.1H1814M1787.5 584.6H1814" stroke="#fff" stroke-opacity="0.45" stroke-width="1.6" stroke-dasharray="5 1.5"/>
<text font-size="19.3" x="1828.1" y="579.2">ICPH2740</text>
<rect x="1784.9" y="589.8" width="31.8" height="32.6" fill="#7CAE00" fill-opacity="0.78" stroke="#72A200" stroke-width="1.2"/>
<rect x="1788" y="596.6" width="25.6" height="19" fill="#7CAE00"/>
<path d="M1787.5 594.4H1814M1787.5 617.9H1814" stroke="#fff" stroke-opacity="0.45" stroke-width="1.6" stroke-dasharray="5 1.5"/>
<text font-size="19.3" x="1828.1" y="612.4">Maruti</text>
<rect x="1784.9" y="623.1" width="31.8" height="32.6" fill="#00BFC4" fill-opacity="0.78" stroke="#12ACAA" stroke-width="1.2"/>
<rect x="1788" y="629.9" width="25.6" height="19" fill="#00BFC4"/>
<path d="M1787.5 627.6H1814M1787.5 651.1H1814" stroke="#fff" stroke-opacity="0.45" stroke-width="1.6" stroke-dasharray="5 1.5"/>
<text font-size="19.3" x="1828.1" y="645.7">TS3R</text>
<rect x="1784.9" y="656.3" width="31.8" height="32.6" fill="#C77CFF" fill-opacity="0.78" stroke="#BD80F2" stroke-width="1.2"/>
<rect x="1788" y="663.1" width="25.6" height="19" fill="#C77CFF"/>
<path d="M1787.5 660.9H1814M1787.5 684.4H1814" stroke="#fff" stroke-opacity="0.45" stroke-width="1.6" stroke-dasharray="5 1.5"/>
<text font-size="19.3" x="1828.1" y="678.9">All Genotypes</text>
<text class="b" font-size="17.4" text-anchor="middle" x="1851.7" y="759.8">DS = Direct Seeding</text>
<text class="b" font-size="17.4" text-anchor="middle" x="1851.2" y="785.2">Error bars indicate ± S.E.</text>
</svg></body></html>
